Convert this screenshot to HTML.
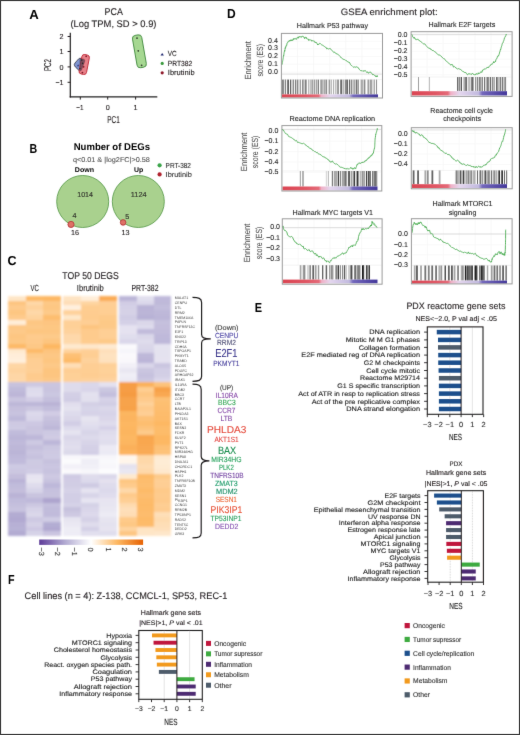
<!DOCTYPE html>
<html><head><meta charset="utf-8"><title>Figure</title>
<style>html,body{margin:0;padding:0;background:#fff;} body{width:520px;height:735px;overflow:hidden;font-family:"Liberation Sans", sans-serif;} svg{display:block;position:absolute;left:0;top:0;} svg.bd{filter:none;}</style>
</head><body>
<svg width="520" height="735" viewBox="0 0 520 735" font-family='"Liberation Sans", sans-serif' fill="#231f20" text-rendering="geometricPrecision">
<defs><filter id="hblur" x="-2%" y="-2%" width="104%" height="104%"><feGaussianBlur stdDeviation="0.8"/></filter></defs>
<filter id="gb" x="0" y="0" width="520" height="735" filterUnits="userSpaceOnUse"><feConvolveMatrix order="3" kernelMatrix="0.0052 0.0619 0.0052 0.0619 0.7314 0.0619 0.0052 0.0619 0.0052" edgeMode="duplicate"/></filter>
<rect x="0" y="0" width="520" height="735" fill="#fff"/>
<g filter="url(#gb)">
<text x="29.20" y="18.70" font-size="13.0" font-weight="bold" fill="#000" textLength="9.50" lengthAdjust="spacingAndGlyphs">A</text>
<text x="104.60" y="15.20" font-size="9.8" textLength="18.20" lengthAdjust="spacingAndGlyphs" stroke="#231f20" stroke-width="0.12">PCA</text>
<text x="70.40" y="26.60" font-size="9.6" textLength="86.10" lengthAdjust="spacingAndGlyphs" stroke="#231f20" stroke-width="0.12">(Log TPM, SD &gt; 0.9)</text>
<line x1="70.30" y1="32.80" x2="70.30" y2="97.50" stroke="#231f20" stroke-width="1.2" />
<line x1="69.70" y1="96.90" x2="157.30" y2="96.90" stroke="#231f20" stroke-width="1.2" />
<line x1="67.60" y1="36.50" x2="70.30" y2="36.50" stroke="#231f20" stroke-width="1" />
<text x="63.60" y="39.10" font-size="7.2" text-anchor="end" stroke="#231f20" stroke-width="0.12">2</text>
<line x1="67.60" y1="51.50" x2="70.30" y2="51.50" stroke="#231f20" stroke-width="1" />
<text x="63.60" y="54.10" font-size="7.2" text-anchor="end" stroke="#231f20" stroke-width="0.12">1</text>
<line x1="67.60" y1="66.90" x2="70.30" y2="66.90" stroke="#231f20" stroke-width="1" />
<text x="63.60" y="69.50" font-size="7.2" text-anchor="end" stroke="#231f20" stroke-width="0.12">0</text>
<line x1="67.60" y1="82.30" x2="70.30" y2="82.30" stroke="#231f20" stroke-width="1" />
<text x="55.40" y="84.90" font-size="7.2" textLength="8.00" lengthAdjust="spacingAndGlyphs" stroke="#231f20" stroke-width="0.12">−1</text>
<line x1="80.30" y1="96.90" x2="80.30" y2="99.60" stroke="#231f20" stroke-width="1" />
<text x="76.30" y="110.20" font-size="7.2" textLength="7.20" lengthAdjust="spacingAndGlyphs" stroke="#231f20" stroke-width="0.12">−1</text>
<line x1="107.70" y1="96.90" x2="107.70" y2="99.60" stroke="#231f20" stroke-width="1" />
<text x="107.70" y="110.20" font-size="7.2" text-anchor="middle" stroke="#231f20" stroke-width="0.12">0</text>
<line x1="135.60" y1="96.90" x2="135.60" y2="99.60" stroke="#231f20" stroke-width="1" />
<text x="135.60" y="110.20" font-size="7.2" text-anchor="middle" stroke="#231f20" stroke-width="0.12">1</text>
<text x="107.30" y="123.40" font-size="10.0" textLength="12.50" lengthAdjust="spacingAndGlyphs" stroke="#231f20" stroke-width="0.12">PC1</text>
<text x="50.90" y="71.00" font-size="10.0" textLength="12.00" lengthAdjust="spacingAndGlyphs" transform="rotate(-90 50.90 71.00)" stroke="#231f20" stroke-width="0.12">PC2</text>
<path d="M74.6,65.8 Q73.8,64.6 75,63 L78.6,58.9 Q79.6,58 81,58.3 L84,59.2 Q85.2,59.8 84.8,61.2 L81.6,70 Q80.8,71.4 79.4,70.8 L75.6,67.2 Z" fill="#8094d0" stroke="#2b2b3a" stroke-width="0.8"/>
<rect x="80.4" y="54.6" width="7.6" height="19.8" rx="2.6" transform="rotate(11 84.2 64.5)" fill="#e2606c" fill-opacity="0.8" stroke="#c22c3a" stroke-width="0.9"/>
<path d="M79.5,58.6 L84,59.2 Q85.2,59.8 84.8,61.2 L81.6,70 Q80.8,71.4 79.8,70.9 Z" fill="#3a3440" fill-opacity="0.55"/>
<rect x="134.7" y="34.9" width="9.4" height="32.8" rx="3.2" transform="rotate(-9.9 139.4 51.3)" fill="#a6d892" stroke="#3f8a3d" stroke-width="0.9"/>
<path d="M78.1,64.3 L79.2,66.3 L77.0,66.3 Z" fill="#1f2f7a"/>
<circle cx="81.8" cy="60.1" r="0.8" fill="#222"/>
<circle cx="82.6" cy="63.4" r="0.8" fill="#222"/>
<circle cx="79.8" cy="68.6" r="0.8" fill="#222"/>
<circle cx="86.2" cy="56.3" r="0.9" fill="#7a1020"/>
<circle cx="83.6" cy="66.8" r="0.9" fill="#7a1020"/>
<circle cx="82.4" cy="72.6" r="0.9" fill="#7a1020"/>
<path d="M137,36.8 L138.1,38.8 L135.9,38.8 Z" fill="#1a1a1a"/>
<circle cx="138.3" cy="50.8" r="0.85" fill="#1a1a1a"/>
<circle cx="141.6" cy="65.3" r="0.85" fill="#1a1a1a"/>
<path d="M162.2,52.9 L163.9,55.6 L160.5,55.6 Z" fill="#1e2d72"/>
<circle cx="162.2" cy="63.4" r="1.6" fill="#3a9a3e"/>
<circle cx="162.2" cy="72.8" r="1.6" fill="#8e1526"/>
<text x="167.80" y="55.90" font-size="7.4" textLength="8.90" lengthAdjust="spacingAndGlyphs" stroke="#231f20" stroke-width="0.12">VC</text>
<text x="167.80" y="65.80" font-size="7.4" textLength="24.50" lengthAdjust="spacingAndGlyphs" stroke="#231f20" stroke-width="0.12">PRT382</text>
<text x="167.80" y="74.50" font-size="7.4" textLength="26.80" lengthAdjust="spacingAndGlyphs" stroke="#231f20" stroke-width="0.12">Ibrutinib</text>
<text x="29.60" y="153.30" font-size="13.0" font-weight="bold" fill="#000" textLength="7.70" lengthAdjust="spacingAndGlyphs">B</text>
<text x="73.70" y="150.40" font-size="9.8" font-weight="bold" fill="#000" textLength="76.30" lengthAdjust="spacingAndGlyphs">Number of DEGs</text>
<text x="72.90" y="161.60" font-size="7.0" fill="#555" textLength="77.00" lengthAdjust="spacingAndGlyphs" stroke="#555" stroke-width="0.12">q&lt;0.01 &amp; |log2FC|&gt;0.58</text>
<text x="74.80" y="172.30" font-size="7.0" font-weight="bold" fill="#000" textLength="19.20" lengthAdjust="spacingAndGlyphs">Down</text>
<text x="134.00" y="172.30" font-size="7.0" font-weight="bold" fill="#000" textLength="9.20" lengthAdjust="spacingAndGlyphs">Up</text>
<circle cx="159.6" cy="165.3" r="2.1" fill="#3aa44a"/>
<circle cx="159.6" cy="174.4" r="2.1" fill="#b0202e"/>
<text x="165.60" y="168.00" font-size="7.2" fill="#333" textLength="25.30" lengthAdjust="spacingAndGlyphs" stroke="#333" stroke-width="0.12">PRT-382</text>
<text x="165.60" y="177.00" font-size="7.2" fill="#333" textLength="26.20" lengthAdjust="spacingAndGlyphs" stroke="#333" stroke-width="0.12">Ibrutinib</text>
<circle cx="82.7" cy="201.5" r="26.0" fill="#a9d18e" stroke="#5c9e4f" stroke-width="0.9"/>
<circle cx="138.3" cy="201.5" r="26.0" fill="#a9d18e" stroke="#5c9e4f" stroke-width="0.9"/>
<circle cx="71.0" cy="224.4" r="3.1" fill="#de7266" stroke="#b02a32" stroke-width="0.8"/>
<circle cx="123.1" cy="222.4" r="2.8" fill="#de7266" stroke="#b02a32" stroke-width="0.8"/>
<text x="77.20" y="197.40" font-size="7.2" textLength="15.80" lengthAdjust="spacingAndGlyphs" stroke="#231f20" stroke-width="0.12">1014</text>
<text x="130.80" y="197.40" font-size="7.2" textLength="15.80" lengthAdjust="spacingAndGlyphs" stroke="#231f20" stroke-width="0.12">1124</text>
<text x="74.60" y="218.40" font-size="7.2" text-anchor="middle" stroke="#231f20" stroke-width="0.12">4</text>
<text x="127.30" y="219.20" font-size="7.2" text-anchor="middle" stroke="#231f20" stroke-width="0.12">5</text>
<text x="75.00" y="234.50" font-size="7.2" text-anchor="middle" stroke="#231f20" stroke-width="0.12">16</text>
<text x="125.60" y="234.50" font-size="7.2" text-anchor="middle" stroke="#231f20" stroke-width="0.12">13</text>
<text x="7.60" y="264.60" font-size="13.0" font-weight="bold" fill="#000" textLength="9.00" lengthAdjust="spacingAndGlyphs">C</text>
<text x="62.30" y="278.80" font-size="9.9" textLength="56.40" lengthAdjust="spacingAndGlyphs" stroke="#231f20" stroke-width="0.12">TOP 50 DEGS</text>
<text x="30.50" y="290.70" font-size="8.8" textLength="8.30" lengthAdjust="spacingAndGlyphs" stroke="#231f20" stroke-width="0.12">VC</text>
<text x="76.80" y="290.70" font-size="8.8" textLength="27.00" lengthAdjust="spacingAndGlyphs" stroke="#231f20" stroke-width="0.12">Ibrutinib</text>
<text x="131.50" y="290.70" font-size="8.8" textLength="27.00" lengthAdjust="spacingAndGlyphs" stroke="#231f20" stroke-width="0.12">PRT-382</text>
<g filter="url(#hblur)" shape-rendering="crispEdges">
<rect x="7.80" y="295.70" width="18.40" height="5.41" fill="#fee6c8"/>
<rect x="7.80" y="300.51" width="18.40" height="5.41" fill="#fdc580"/>
<rect x="7.80" y="305.32" width="18.40" height="5.41" fill="#feca8c"/>
<rect x="7.80" y="310.14" width="18.40" height="5.41" fill="#fdc682"/>
<rect x="7.80" y="314.95" width="18.40" height="5.41" fill="#fecb8c"/>
<rect x="7.80" y="319.76" width="18.40" height="5.41" fill="#ffedd8"/>
<rect x="7.80" y="324.57" width="18.40" height="5.41" fill="#fdc886"/>
<rect x="7.80" y="329.38" width="18.40" height="5.41" fill="#fdc989"/>
<rect x="7.80" y="334.20" width="18.40" height="5.41" fill="#fdc682"/>
<rect x="7.80" y="339.01" width="18.40" height="5.41" fill="#fdc885"/>
<rect x="7.80" y="343.82" width="18.40" height="5.41" fill="#fdba68"/>
<rect x="7.80" y="348.63" width="18.40" height="5.41" fill="#fee9cf"/>
<rect x="7.80" y="353.44" width="18.40" height="5.41" fill="#ffedd9"/>
<rect x="7.80" y="358.26" width="18.40" height="5.41" fill="#ffefdc"/>
<rect x="7.80" y="363.07" width="18.40" height="5.41" fill="#fed6a4"/>
<rect x="7.80" y="367.88" width="18.40" height="5.41" fill="#fed39f"/>
<rect x="7.80" y="372.69" width="18.40" height="5.41" fill="#fed6a6"/>
<rect x="7.80" y="377.50" width="18.40" height="5.41" fill="#fed7a6"/>
<rect x="7.80" y="382.32" width="18.40" height="5.41" fill="#c7c2de"/>
<rect x="7.80" y="387.13" width="18.40" height="5.41" fill="#c0bbda"/>
<rect x="7.80" y="391.94" width="18.40" height="5.41" fill="#bdb6d8"/>
<rect x="7.80" y="396.75" width="18.40" height="5.41" fill="#cac5e0"/>
<rect x="7.80" y="401.56" width="18.40" height="5.41" fill="#bdb7d8"/>
<rect x="7.80" y="406.38" width="18.40" height="5.41" fill="#c6c0dd"/>
<rect x="7.80" y="411.19" width="18.40" height="5.41" fill="#c8c3df"/>
<rect x="7.80" y="416.00" width="18.40" height="5.41" fill="#bfbada"/>
<rect x="7.80" y="420.81" width="18.40" height="5.41" fill="#cec9e2"/>
<rect x="7.80" y="425.62" width="18.40" height="5.41" fill="#cfcbe3"/>
<rect x="7.80" y="430.44" width="18.40" height="5.41" fill="#c1bcdb"/>
<rect x="7.80" y="435.25" width="18.40" height="5.41" fill="#bcb6d8"/>
<rect x="7.80" y="440.06" width="18.40" height="5.41" fill="#c0bada"/>
<rect x="7.80" y="444.87" width="18.40" height="5.41" fill="#bdb7d8"/>
<rect x="7.80" y="449.68" width="18.40" height="5.41" fill="#bbb5d7"/>
<rect x="7.80" y="454.50" width="18.40" height="5.41" fill="#bfb9da"/>
<rect x="7.80" y="459.31" width="18.40" height="5.41" fill="#c1bbdb"/>
<rect x="7.80" y="464.12" width="18.40" height="5.41" fill="#cecae3"/>
<rect x="7.80" y="468.93" width="18.40" height="5.41" fill="#ccc7e1"/>
<rect x="7.80" y="473.74" width="18.40" height="5.41" fill="#c4bedc"/>
<rect x="7.80" y="478.56" width="18.40" height="5.41" fill="#bab4d7"/>
<rect x="7.80" y="483.37" width="18.40" height="5.41" fill="#c1bcdb"/>
<rect x="7.80" y="488.18" width="18.40" height="5.41" fill="#c4bedc"/>
<rect x="7.80" y="492.99" width="18.40" height="5.41" fill="#bab3d6"/>
<rect x="7.80" y="497.80" width="18.40" height="5.41" fill="#c1bcdb"/>
<rect x="7.80" y="502.62" width="18.40" height="5.41" fill="#c5c0dd"/>
<rect x="7.80" y="507.43" width="18.40" height="5.41" fill="#c8c3df"/>
<rect x="7.80" y="512.24" width="18.40" height="5.41" fill="#b3acd2"/>
<rect x="7.80" y="517.05" width="18.40" height="5.41" fill="#b1a9d1"/>
<rect x="7.80" y="521.86" width="18.40" height="5.41" fill="#b7b0d5"/>
<rect x="7.80" y="526.68" width="18.40" height="5.41" fill="#b8b2d6"/>
<rect x="7.80" y="531.49" width="18.40" height="4.81" fill="#b2abd2"/>
<rect x="25.60" y="295.70" width="18.40" height="5.41" fill="#fdb966"/>
<rect x="25.60" y="300.51" width="18.40" height="5.41" fill="#fed8a8"/>
<rect x="25.60" y="305.32" width="18.40" height="5.41" fill="#fed29c"/>
<rect x="25.60" y="310.14" width="18.40" height="5.41" fill="#fed8a8"/>
<rect x="25.60" y="314.95" width="18.40" height="5.41" fill="#fed39e"/>
<rect x="25.60" y="319.76" width="18.40" height="5.41" fill="#fdc784"/>
<rect x="25.60" y="324.57" width="18.40" height="5.41" fill="#fdc988"/>
<rect x="25.60" y="329.38" width="18.40" height="5.41" fill="#fdc681"/>
<rect x="25.60" y="334.20" width="18.40" height="5.41" fill="#fecb8d"/>
<rect x="25.60" y="339.01" width="18.40" height="5.41" fill="#feca8b"/>
<rect x="25.60" y="343.82" width="18.40" height="5.41" fill="#fdc886"/>
<rect x="25.60" y="348.63" width="18.40" height="5.41" fill="#fdba67"/>
<rect x="25.60" y="353.44" width="18.40" height="5.41" fill="#fdca8a"/>
<rect x="25.60" y="358.26" width="18.40" height="5.41" fill="#fece93"/>
<rect x="25.60" y="363.07" width="18.40" height="5.41" fill="#fece94"/>
<rect x="25.60" y="367.88" width="18.40" height="5.41" fill="#fecf95"/>
<rect x="25.60" y="372.69" width="18.40" height="5.41" fill="#fecb8d"/>
<rect x="25.60" y="377.50" width="18.40" height="5.41" fill="#fecc8f"/>
<rect x="25.60" y="382.32" width="18.40" height="5.41" fill="#cec9e2"/>
<rect x="25.60" y="387.13" width="18.40" height="5.41" fill="#dedbec"/>
<rect x="25.60" y="391.94" width="18.40" height="5.41" fill="#e0dded"/>
<rect x="25.60" y="396.75" width="18.40" height="5.41" fill="#d3cee5"/>
<rect x="25.60" y="401.56" width="18.40" height="5.41" fill="#bcb6d8"/>
<rect x="25.60" y="406.38" width="18.40" height="5.41" fill="#cbc6e0"/>
<rect x="25.60" y="411.19" width="18.40" height="5.41" fill="#dcd9eb"/>
<rect x="25.60" y="416.00" width="18.40" height="5.41" fill="#d9d5e9"/>
<rect x="25.60" y="420.81" width="18.40" height="5.41" fill="#cdc8e2"/>
<rect x="25.60" y="425.62" width="18.40" height="5.41" fill="#c9c4df"/>
<rect x="25.60" y="430.44" width="18.40" height="5.41" fill="#cac5e0"/>
<rect x="25.60" y="435.25" width="18.40" height="5.41" fill="#beb8d9"/>
<rect x="25.60" y="440.06" width="18.40" height="5.41" fill="#cdc9e2"/>
<rect x="25.60" y="444.87" width="18.40" height="5.41" fill="#c5bfdd"/>
<rect x="25.60" y="449.68" width="18.40" height="5.41" fill="#cbc6e1"/>
<rect x="25.60" y="454.50" width="18.40" height="5.41" fill="#c6c1de"/>
<rect x="25.60" y="459.31" width="18.40" height="5.41" fill="#cecae2"/>
<rect x="25.60" y="464.12" width="18.40" height="5.41" fill="#cec9e2"/>
<rect x="25.60" y="468.93" width="18.40" height="5.41" fill="#d0cce4"/>
<rect x="25.60" y="473.74" width="18.40" height="5.41" fill="#e7e4f1"/>
<rect x="25.60" y="478.56" width="18.40" height="5.41" fill="#e8e6f1"/>
<rect x="25.60" y="483.37" width="18.40" height="5.41" fill="#dfdcec"/>
<rect x="25.60" y="488.18" width="18.40" height="5.41" fill="#d7d4e8"/>
<rect x="25.60" y="492.99" width="18.40" height="5.41" fill="#c9c4df"/>
<rect x="25.60" y="497.80" width="18.40" height="5.41" fill="#bfb9da"/>
<rect x="25.60" y="502.62" width="18.40" height="5.41" fill="#ccc8e1"/>
<rect x="25.60" y="507.43" width="18.40" height="5.41" fill="#d6d2e7"/>
<rect x="25.60" y="512.24" width="18.40" height="5.41" fill="#dad7e9"/>
<rect x="25.60" y="517.05" width="18.40" height="5.41" fill="#cec9e2"/>
<rect x="25.60" y="521.86" width="18.40" height="5.41" fill="#d4d0e6"/>
<rect x="25.60" y="526.68" width="18.40" height="5.41" fill="#cdc8e2"/>
<rect x="25.60" y="531.49" width="18.40" height="4.81" fill="#d6d3e7"/>
<rect x="43.40" y="295.70" width="17.80" height="5.41" fill="#fdb863"/>
<rect x="43.40" y="300.51" width="17.80" height="5.41" fill="#fdc886"/>
<rect x="43.40" y="305.32" width="17.80" height="5.41" fill="#fdc783"/>
<rect x="43.40" y="310.14" width="17.80" height="5.41" fill="#fdca8a"/>
<rect x="43.40" y="314.95" width="17.80" height="5.41" fill="#fdbe6f"/>
<rect x="43.40" y="319.76" width="17.80" height="5.41" fill="#fdc581"/>
<rect x="43.40" y="324.57" width="17.80" height="5.41" fill="#fdc783"/>
<rect x="43.40" y="329.38" width="17.80" height="5.41" fill="#fdc682"/>
<rect x="43.40" y="334.20" width="17.80" height="5.41" fill="#fdca8a"/>
<rect x="43.40" y="339.01" width="17.80" height="5.41" fill="#fdc57f"/>
<rect x="43.40" y="343.82" width="17.80" height="5.41" fill="#fdb762"/>
<rect x="43.40" y="348.63" width="17.80" height="5.41" fill="#fdc47e"/>
<rect x="43.40" y="353.44" width="17.80" height="5.41" fill="#fdc785"/>
<rect x="43.40" y="358.26" width="17.80" height="5.41" fill="#fdc681"/>
<rect x="43.40" y="363.07" width="17.80" height="5.41" fill="#fdc988"/>
<rect x="43.40" y="367.88" width="17.80" height="5.41" fill="#fdc57f"/>
<rect x="43.40" y="372.69" width="17.80" height="5.41" fill="#fdc580"/>
<rect x="43.40" y="377.50" width="17.80" height="5.41" fill="#fdc988"/>
<rect x="43.40" y="382.32" width="17.80" height="5.41" fill="#cac5e0"/>
<rect x="43.40" y="387.13" width="17.80" height="5.41" fill="#c9c4df"/>
<rect x="43.40" y="391.94" width="17.80" height="5.41" fill="#cbc7e1"/>
<rect x="43.40" y="396.75" width="17.80" height="5.41" fill="#c5c0dd"/>
<rect x="43.40" y="401.56" width="17.80" height="5.41" fill="#bab3d6"/>
<rect x="43.40" y="406.38" width="17.80" height="5.41" fill="#c2bddc"/>
<rect x="43.40" y="411.19" width="17.80" height="5.41" fill="#d1cce4"/>
<rect x="43.40" y="416.00" width="17.80" height="5.41" fill="#c7c2de"/>
<rect x="43.40" y="420.81" width="17.80" height="5.41" fill="#c3bddc"/>
<rect x="43.40" y="425.62" width="17.80" height="5.41" fill="#bdb7d8"/>
<rect x="43.40" y="430.44" width="17.80" height="5.41" fill="#cdc9e2"/>
<rect x="43.40" y="435.25" width="17.80" height="5.41" fill="#d0cbe3"/>
<rect x="43.40" y="440.06" width="17.80" height="5.41" fill="#bdb7d9"/>
<rect x="43.40" y="444.87" width="17.80" height="5.41" fill="#cbc7e1"/>
<rect x="43.40" y="449.68" width="17.80" height="5.41" fill="#cec9e2"/>
<rect x="43.40" y="454.50" width="17.80" height="5.41" fill="#cfcae3"/>
<rect x="43.40" y="459.31" width="17.80" height="5.41" fill="#c7c2de"/>
<rect x="43.40" y="464.12" width="17.80" height="5.41" fill="#cbc6e1"/>
<rect x="43.40" y="468.93" width="17.80" height="5.41" fill="#c8c3df"/>
<rect x="43.40" y="473.74" width="17.80" height="5.41" fill="#cec9e2"/>
<rect x="43.40" y="478.56" width="17.80" height="5.41" fill="#c8c3df"/>
<rect x="43.40" y="483.37" width="17.80" height="5.41" fill="#beb8d9"/>
<rect x="43.40" y="488.18" width="17.80" height="5.41" fill="#c6c1de"/>
<rect x="43.40" y="492.99" width="17.80" height="5.41" fill="#c7c2de"/>
<rect x="43.40" y="497.80" width="17.80" height="5.41" fill="#ada4ce"/>
<rect x="43.40" y="502.62" width="17.80" height="5.41" fill="#c4bfdd"/>
<rect x="43.40" y="507.43" width="17.80" height="5.41" fill="#c1bcdb"/>
<rect x="43.40" y="512.24" width="17.80" height="5.41" fill="#c1bbdb"/>
<rect x="43.40" y="517.05" width="17.80" height="5.41" fill="#d0cce4"/>
<rect x="43.40" y="521.86" width="17.80" height="5.41" fill="#b3add3"/>
<rect x="43.40" y="526.68" width="17.80" height="5.41" fill="#b1a9d1"/>
<rect x="43.40" y="531.49" width="17.80" height="4.81" fill="#cac5e0"/>
<rect x="63.30" y="295.70" width="18.47" height="5.41" fill="#fee3c2"/>
<rect x="63.30" y="300.51" width="18.47" height="5.41" fill="#fedeb7"/>
<rect x="63.30" y="305.32" width="18.47" height="5.41" fill="#fff0de"/>
<rect x="63.30" y="310.14" width="18.47" height="5.41" fill="#fed29c"/>
<rect x="63.30" y="314.95" width="18.47" height="5.41" fill="#fee7c9"/>
<rect x="63.30" y="319.76" width="18.47" height="5.41" fill="#fed098"/>
<rect x="63.30" y="324.57" width="18.47" height="5.41" fill="#fed097"/>
<rect x="63.30" y="329.38" width="18.47" height="5.41" fill="#fed29d"/>
<rect x="63.30" y="334.20" width="18.47" height="5.41" fill="#fed8aa"/>
<rect x="63.30" y="339.01" width="18.47" height="5.41" fill="#fed9ab"/>
<rect x="63.30" y="343.82" width="18.47" height="5.41" fill="#fee9cf"/>
<rect x="63.30" y="348.63" width="18.47" height="5.41" fill="#fed39f"/>
<rect x="63.30" y="353.44" width="18.47" height="5.41" fill="#fdc075"/>
<rect x="63.30" y="358.26" width="18.47" height="5.41" fill="#fdbb69"/>
<rect x="63.30" y="363.07" width="18.47" height="5.41" fill="#fedeb6"/>
<rect x="63.30" y="367.88" width="18.47" height="5.41" fill="#fece94"/>
<rect x="63.30" y="372.69" width="18.47" height="5.41" fill="#fed097"/>
<rect x="63.30" y="377.50" width="18.47" height="5.41" fill="#fed098"/>
<rect x="63.30" y="382.32" width="18.47" height="5.41" fill="#dedbec"/>
<rect x="63.30" y="387.13" width="18.47" height="5.41" fill="#dedbeb"/>
<rect x="63.30" y="391.94" width="18.47" height="5.41" fill="#d3cfe5"/>
<rect x="63.30" y="396.75" width="18.47" height="5.41" fill="#d1cde4"/>
<rect x="63.30" y="401.56" width="18.47" height="5.41" fill="#e1deed"/>
<rect x="63.30" y="406.38" width="18.47" height="5.41" fill="#e4e2ef"/>
<rect x="63.30" y="411.19" width="18.47" height="5.41" fill="#dedbec"/>
<rect x="63.30" y="416.00" width="18.47" height="5.41" fill="#dad7e9"/>
<rect x="63.30" y="420.81" width="18.47" height="5.41" fill="#d2cee5"/>
<rect x="63.30" y="425.62" width="18.47" height="5.41" fill="#dedbec"/>
<rect x="63.30" y="430.44" width="18.47" height="5.41" fill="#e5e3f0"/>
<rect x="63.30" y="435.25" width="18.47" height="5.41" fill="#dad7e9"/>
<rect x="63.30" y="440.06" width="18.47" height="5.41" fill="#dfdcec"/>
<rect x="63.30" y="444.87" width="18.47" height="5.41" fill="#e1deed"/>
<rect x="63.30" y="449.68" width="18.47" height="5.41" fill="#dcd9ea"/>
<rect x="63.30" y="454.50" width="18.47" height="5.41" fill="#f8f7fb"/>
<rect x="63.30" y="459.31" width="18.47" height="5.41" fill="#fbfbfd"/>
<rect x="63.30" y="464.12" width="18.47" height="5.41" fill="#f3f1f8"/>
<rect x="63.30" y="468.93" width="18.47" height="5.41" fill="#faf9fc"/>
<rect x="63.30" y="473.74" width="18.47" height="5.41" fill="#cfcae3"/>
<rect x="63.30" y="478.56" width="18.47" height="5.41" fill="#d1cce4"/>
<rect x="63.30" y="483.37" width="18.47" height="5.41" fill="#d1cde4"/>
<rect x="63.30" y="488.18" width="18.47" height="5.41" fill="#d6d2e7"/>
<rect x="63.30" y="492.99" width="18.47" height="5.41" fill="#d2cee5"/>
<rect x="63.30" y="497.80" width="18.47" height="5.41" fill="#d2cee5"/>
<rect x="63.30" y="502.62" width="18.47" height="5.41" fill="#d5d2e7"/>
<rect x="63.30" y="507.43" width="18.47" height="5.41" fill="#c7c2de"/>
<rect x="63.30" y="512.24" width="18.47" height="5.41" fill="#cec9e2"/>
<rect x="63.30" y="517.05" width="18.47" height="5.41" fill="#e6e4f0"/>
<rect x="63.30" y="521.86" width="18.47" height="5.41" fill="#eae8f3"/>
<rect x="63.30" y="526.68" width="18.47" height="5.41" fill="#eeedf5"/>
<rect x="63.30" y="531.49" width="18.47" height="4.81" fill="#eeecf5"/>
<rect x="81.17" y="295.70" width="18.47" height="5.41" fill="#ffeed9"/>
<rect x="81.17" y="300.51" width="18.47" height="5.41" fill="#fed5a2"/>
<rect x="81.17" y="305.32" width="18.47" height="5.41" fill="#fecd91"/>
<rect x="81.17" y="310.14" width="18.47" height="5.41" fill="#fecc90"/>
<rect x="81.17" y="314.95" width="18.47" height="5.41" fill="#fecc8e"/>
<rect x="81.17" y="319.76" width="18.47" height="5.41" fill="#fece94"/>
<rect x="81.17" y="324.57" width="18.47" height="5.41" fill="#fdc580"/>
<rect x="81.17" y="329.38" width="18.47" height="5.41" fill="#fecb8d"/>
<rect x="81.17" y="334.20" width="18.47" height="5.41" fill="#fecb8d"/>
<rect x="81.17" y="339.01" width="18.47" height="5.41" fill="#fecc8e"/>
<rect x="81.17" y="343.82" width="18.47" height="5.41" fill="#fee7cb"/>
<rect x="81.17" y="348.63" width="18.47" height="5.41" fill="#fecf96"/>
<rect x="81.17" y="353.44" width="18.47" height="5.41" fill="#fece93"/>
<rect x="81.17" y="358.26" width="18.47" height="5.41" fill="#fed29c"/>
<rect x="81.17" y="363.07" width="18.47" height="5.41" fill="#fece94"/>
<rect x="81.17" y="367.88" width="18.47" height="5.41" fill="#fece93"/>
<rect x="81.17" y="372.69" width="18.47" height="5.41" fill="#fecd92"/>
<rect x="81.17" y="377.50" width="18.47" height="5.41" fill="#fed19b"/>
<rect x="81.17" y="382.32" width="18.47" height="5.41" fill="#dad7ea"/>
<rect x="81.17" y="387.13" width="18.47" height="5.41" fill="#d9d5e9"/>
<rect x="81.17" y="391.94" width="18.47" height="5.41" fill="#e3e1ef"/>
<rect x="81.17" y="396.75" width="18.47" height="5.41" fill="#e2e0ee"/>
<rect x="81.17" y="401.56" width="18.47" height="5.41" fill="#d3cfe5"/>
<rect x="81.17" y="406.38" width="18.47" height="5.41" fill="#d7d4e8"/>
<rect x="81.17" y="411.19" width="18.47" height="5.41" fill="#d6d2e7"/>
<rect x="81.17" y="416.00" width="18.47" height="5.41" fill="#e6e4f0"/>
<rect x="81.17" y="420.81" width="18.47" height="5.41" fill="#e2e0ee"/>
<rect x="81.17" y="425.62" width="18.47" height="5.41" fill="#dedbec"/>
<rect x="81.17" y="430.44" width="18.47" height="5.41" fill="#d8d5e8"/>
<rect x="81.17" y="435.25" width="18.47" height="5.41" fill="#dddaeb"/>
<rect x="81.17" y="440.06" width="18.47" height="5.41" fill="#d8d4e8"/>
<rect x="81.17" y="444.87" width="18.47" height="5.41" fill="#d4d0e6"/>
<rect x="81.17" y="449.68" width="18.47" height="5.41" fill="#d3cfe5"/>
<rect x="81.17" y="454.50" width="18.47" height="5.41" fill="#f7f6fa"/>
<rect x="81.17" y="459.31" width="18.47" height="5.41" fill="#efeef6"/>
<rect x="81.17" y="464.12" width="18.47" height="5.41" fill="#f1f0f7"/>
<rect x="81.17" y="468.93" width="18.47" height="5.41" fill="#f7f6fa"/>
<rect x="81.17" y="473.74" width="18.47" height="5.41" fill="#dfdcec"/>
<rect x="81.17" y="478.56" width="18.47" height="5.41" fill="#dcd9eb"/>
<rect x="81.17" y="483.37" width="18.47" height="5.41" fill="#cfcbe3"/>
<rect x="81.17" y="488.18" width="18.47" height="5.41" fill="#e5e3f0"/>
<rect x="81.17" y="492.99" width="18.47" height="5.41" fill="#d8d5e8"/>
<rect x="81.17" y="497.80" width="18.47" height="5.41" fill="#e6e4f1"/>
<rect x="81.17" y="502.62" width="18.47" height="5.41" fill="#d4d1e6"/>
<rect x="81.17" y="507.43" width="18.47" height="5.41" fill="#d9d5e9"/>
<rect x="81.17" y="512.24" width="18.47" height="5.41" fill="#ddd9eb"/>
<rect x="81.17" y="517.05" width="18.47" height="5.41" fill="#d5d1e6"/>
<rect x="81.17" y="521.86" width="18.47" height="5.41" fill="#dfdcec"/>
<rect x="81.17" y="526.68" width="18.47" height="5.41" fill="#d4d0e6"/>
<rect x="81.17" y="531.49" width="18.47" height="4.81" fill="#e1dfee"/>
<rect x="99.03" y="295.70" width="17.87" height="5.41" fill="#faab55"/>
<rect x="99.03" y="300.51" width="17.87" height="5.41" fill="#fece94"/>
<rect x="99.03" y="305.32" width="17.87" height="5.41" fill="#fece93"/>
<rect x="99.03" y="310.14" width="17.87" height="5.41" fill="#fece93"/>
<rect x="99.03" y="314.95" width="17.87" height="5.41" fill="#fdca8a"/>
<rect x="99.03" y="319.76" width="17.87" height="5.41" fill="#fdc987"/>
<rect x="99.03" y="324.57" width="17.87" height="5.41" fill="#fdc988"/>
<rect x="99.03" y="329.38" width="17.87" height="5.41" fill="#fecf95"/>
<rect x="99.03" y="334.20" width="17.87" height="5.41" fill="#fecf95"/>
<rect x="99.03" y="339.01" width="17.87" height="5.41" fill="#fdc988"/>
<rect x="99.03" y="343.82" width="17.87" height="5.41" fill="#feead1"/>
<rect x="99.03" y="348.63" width="17.87" height="5.41" fill="#fedfba"/>
<rect x="99.03" y="353.44" width="17.87" height="5.41" fill="#fee2c0"/>
<rect x="99.03" y="358.26" width="17.87" height="5.41" fill="#fee1be"/>
<rect x="99.03" y="363.07" width="17.87" height="5.41" fill="#fed098"/>
<rect x="99.03" y="367.88" width="17.87" height="5.41" fill="#fed199"/>
<rect x="99.03" y="372.69" width="17.87" height="5.41" fill="#fecf97"/>
<rect x="99.03" y="377.50" width="17.87" height="5.41" fill="#fed39f"/>
<rect x="99.03" y="382.32" width="17.87" height="5.41" fill="#e4e1ef"/>
<rect x="99.03" y="387.13" width="17.87" height="5.41" fill="#cbc7e1"/>
<rect x="99.03" y="391.94" width="17.87" height="5.41" fill="#c4bfdd"/>
<rect x="99.03" y="396.75" width="17.87" height="5.41" fill="#d6d2e7"/>
<rect x="99.03" y="401.56" width="17.87" height="5.41" fill="#d1cde4"/>
<rect x="99.03" y="406.38" width="17.87" height="5.41" fill="#dad7e9"/>
<rect x="99.03" y="411.19" width="17.87" height="5.41" fill="#d7d3e8"/>
<rect x="99.03" y="416.00" width="17.87" height="5.41" fill="#dad6e9"/>
<rect x="99.03" y="420.81" width="17.87" height="5.41" fill="#dfdcec"/>
<rect x="99.03" y="425.62" width="17.87" height="5.41" fill="#d6d2e7"/>
<rect x="99.03" y="430.44" width="17.87" height="5.41" fill="#dfdcec"/>
<rect x="99.03" y="435.25" width="17.87" height="5.41" fill="#e2dfee"/>
<rect x="99.03" y="440.06" width="17.87" height="5.41" fill="#e0deed"/>
<rect x="99.03" y="444.87" width="17.87" height="5.41" fill="#eceaf4"/>
<rect x="99.03" y="449.68" width="17.87" height="5.41" fill="#ebeaf4"/>
<rect x="99.03" y="454.50" width="17.87" height="5.41" fill="#f7f6fa"/>
<rect x="99.03" y="459.31" width="17.87" height="5.41" fill="#f9f9fc"/>
<rect x="99.03" y="464.12" width="17.87" height="5.41" fill="#f8f7fb"/>
<rect x="99.03" y="468.93" width="17.87" height="5.41" fill="#fdfdfe"/>
<rect x="99.03" y="473.74" width="17.87" height="5.41" fill="#dbd8ea"/>
<rect x="99.03" y="478.56" width="17.87" height="5.41" fill="#e4e1ef"/>
<rect x="99.03" y="483.37" width="17.87" height="5.41" fill="#dfdcec"/>
<rect x="99.03" y="488.18" width="17.87" height="5.41" fill="#dcd9eb"/>
<rect x="99.03" y="492.99" width="17.87" height="5.41" fill="#e0dded"/>
<rect x="99.03" y="497.80" width="17.87" height="5.41" fill="#e7e4f1"/>
<rect x="99.03" y="502.62" width="17.87" height="5.41" fill="#e7e5f1"/>
<rect x="99.03" y="507.43" width="17.87" height="5.41" fill="#e9e7f2"/>
<rect x="99.03" y="512.24" width="17.87" height="5.41" fill="#ecebf4"/>
<rect x="99.03" y="517.05" width="17.87" height="5.41" fill="#e6e4f0"/>
<rect x="99.03" y="521.86" width="17.87" height="5.41" fill="#e4e2ef"/>
<rect x="99.03" y="526.68" width="17.87" height="5.41" fill="#e6e3f0"/>
<rect x="99.03" y="531.49" width="17.87" height="4.81" fill="#e0deed"/>
<rect x="119.20" y="295.70" width="17.97" height="5.41" fill="#bcb6d8"/>
<rect x="119.20" y="300.51" width="17.97" height="5.41" fill="#d1cce4"/>
<rect x="119.20" y="305.32" width="17.97" height="5.41" fill="#d4d0e6"/>
<rect x="119.20" y="310.14" width="17.97" height="5.41" fill="#d5d1e6"/>
<rect x="119.20" y="314.95" width="17.97" height="5.41" fill="#d0cce4"/>
<rect x="119.20" y="319.76" width="17.97" height="5.41" fill="#d4d0e6"/>
<rect x="119.20" y="324.57" width="17.97" height="5.41" fill="#e5e2f0"/>
<rect x="119.20" y="329.38" width="17.97" height="5.41" fill="#e5e2f0"/>
<rect x="119.20" y="334.20" width="17.97" height="5.41" fill="#e0deed"/>
<rect x="119.20" y="339.01" width="17.97" height="5.41" fill="#dad7ea"/>
<rect x="119.20" y="343.82" width="17.97" height="5.41" fill="#faf9fc"/>
<rect x="119.20" y="348.63" width="17.97" height="5.41" fill="#f6f5fa"/>
<rect x="119.20" y="353.44" width="17.97" height="5.41" fill="#faf9fc"/>
<rect x="119.20" y="358.26" width="17.97" height="5.41" fill="#f9f8fb"/>
<rect x="119.20" y="363.07" width="17.97" height="5.41" fill="#f2f0f7"/>
<rect x="119.20" y="367.88" width="17.97" height="5.41" fill="#e9e7f2"/>
<rect x="119.20" y="372.69" width="17.97" height="5.41" fill="#f0eef6"/>
<rect x="119.20" y="377.50" width="17.97" height="5.41" fill="#eceaf4"/>
<rect x="119.20" y="382.32" width="17.97" height="5.41" fill="#f69d45"/>
<rect x="119.20" y="387.13" width="17.97" height="5.41" fill="#f69d44"/>
<rect x="119.20" y="391.94" width="17.97" height="5.41" fill="#f59b42"/>
<rect x="119.20" y="396.75" width="17.97" height="5.41" fill="#f7a34b"/>
<rect x="119.20" y="401.56" width="17.97" height="5.41" fill="#f7a34b"/>
<rect x="119.20" y="406.38" width="17.97" height="5.41" fill="#f7a24a"/>
<rect x="119.20" y="411.19" width="17.97" height="5.41" fill="#fcb660"/>
<rect x="119.20" y="416.00" width="17.97" height="5.41" fill="#fcb45f"/>
<rect x="119.20" y="420.81" width="17.97" height="5.41" fill="#fdb762"/>
<rect x="119.20" y="425.62" width="17.97" height="5.41" fill="#fdb661"/>
<rect x="119.20" y="430.44" width="17.97" height="5.41" fill="#fcb55f"/>
<rect x="119.20" y="435.25" width="17.97" height="5.41" fill="#fdb762"/>
<rect x="119.20" y="440.06" width="17.97" height="5.41" fill="#fcb660"/>
<rect x="119.20" y="444.87" width="17.97" height="5.41" fill="#fbb05a"/>
<rect x="119.20" y="449.68" width="17.97" height="5.41" fill="#fcb35e"/>
<rect x="119.20" y="454.50" width="17.97" height="5.41" fill="#fff6ec"/>
<rect x="119.20" y="459.31" width="17.97" height="5.41" fill="#fff5ea"/>
<rect x="119.20" y="464.12" width="17.97" height="5.41" fill="#e4e2ef"/>
<rect x="119.20" y="468.93" width="17.97" height="5.41" fill="#e9e7f2"/>
<rect x="119.20" y="473.74" width="17.97" height="5.41" fill="#fee9ce"/>
<rect x="119.20" y="478.56" width="17.97" height="5.41" fill="#fdc681"/>
<rect x="119.20" y="483.37" width="17.97" height="5.41" fill="#fecb8c"/>
<rect x="119.20" y="488.18" width="17.97" height="5.41" fill="#fed8a9"/>
<rect x="119.20" y="492.99" width="17.97" height="5.41" fill="#feca8b"/>
<rect x="119.20" y="497.80" width="17.97" height="5.41" fill="#fecf95"/>
<rect x="119.20" y="502.62" width="17.97" height="5.41" fill="#fedaae"/>
<rect x="119.20" y="507.43" width="17.97" height="5.41" fill="#fedfb9"/>
<rect x="119.20" y="512.24" width="17.97" height="5.41" fill="#feddb5"/>
<rect x="119.20" y="517.05" width="17.97" height="5.41" fill="#feca8a"/>
<rect x="119.20" y="521.86" width="17.97" height="5.41" fill="#fdc885"/>
<rect x="119.20" y="526.68" width="17.97" height="5.41" fill="#fed4a0"/>
<rect x="119.20" y="531.49" width="17.97" height="4.81" fill="#fdc683"/>
<rect x="136.57" y="295.70" width="17.97" height="5.41" fill="#e1dfee"/>
<rect x="136.57" y="300.51" width="17.97" height="5.41" fill="#dbd8ea"/>
<rect x="136.57" y="305.32" width="17.97" height="5.41" fill="#bab4d7"/>
<rect x="136.57" y="310.14" width="17.97" height="5.41" fill="#bbb5d7"/>
<rect x="136.57" y="314.95" width="17.97" height="5.41" fill="#b8b2d6"/>
<rect x="136.57" y="319.76" width="17.97" height="5.41" fill="#dad7e9"/>
<rect x="136.57" y="324.57" width="17.97" height="5.41" fill="#dedbec"/>
<rect x="136.57" y="329.38" width="17.97" height="5.41" fill="#c1bcdb"/>
<rect x="136.57" y="334.20" width="17.97" height="5.41" fill="#dad7e9"/>
<rect x="136.57" y="339.01" width="17.97" height="5.41" fill="#dfdcec"/>
<rect x="136.57" y="343.82" width="17.97" height="5.41" fill="#dad7e9"/>
<rect x="136.57" y="348.63" width="17.97" height="5.41" fill="#d7d3e8"/>
<rect x="136.57" y="353.44" width="17.97" height="5.41" fill="#beb8d9"/>
<rect x="136.57" y="358.26" width="17.97" height="5.41" fill="#bcb5d8"/>
<rect x="136.57" y="363.07" width="17.97" height="5.41" fill="#d9d5e9"/>
<rect x="136.57" y="367.88" width="17.97" height="5.41" fill="#cac6e0"/>
<rect x="136.57" y="372.69" width="17.97" height="5.41" fill="#c6c1de"/>
<rect x="136.57" y="377.50" width="17.97" height="5.41" fill="#ccc7e1"/>
<rect x="136.57" y="382.32" width="17.97" height="5.41" fill="#fbb25c"/>
<rect x="136.57" y="387.13" width="17.97" height="5.41" fill="#fecd91"/>
<rect x="136.57" y="391.94" width="17.97" height="5.41" fill="#fdc683"/>
<rect x="136.57" y="396.75" width="17.97" height="5.41" fill="#fecb8d"/>
<rect x="136.57" y="401.56" width="17.97" height="5.41" fill="#fed19a"/>
<rect x="136.57" y="406.38" width="17.97" height="5.41" fill="#fecb8d"/>
<rect x="136.57" y="411.19" width="17.97" height="5.41" fill="#fece94"/>
<rect x="136.57" y="416.00" width="17.97" height="5.41" fill="#fdc178"/>
<rect x="136.57" y="420.81" width="17.97" height="5.41" fill="#fdbe70"/>
<rect x="136.57" y="425.62" width="17.97" height="5.41" fill="#fdc37b"/>
<rect x="136.57" y="430.44" width="17.97" height="5.41" fill="#fdca8a"/>
<rect x="136.57" y="435.25" width="17.97" height="5.41" fill="#f8a64e"/>
<rect x="136.57" y="440.06" width="17.97" height="5.41" fill="#f9a750"/>
<rect x="136.57" y="444.87" width="17.97" height="5.41" fill="#f9a953"/>
<rect x="136.57" y="449.68" width="17.97" height="5.41" fill="#f9aa54"/>
<rect x="136.57" y="454.50" width="17.97" height="5.41" fill="#fed7a6"/>
<rect x="136.57" y="459.31" width="17.97" height="5.41" fill="#fed8a9"/>
<rect x="136.57" y="464.12" width="17.97" height="5.41" fill="#fedbb1"/>
<rect x="136.57" y="468.93" width="17.97" height="5.41" fill="#fed8a9"/>
<rect x="136.57" y="473.74" width="17.97" height="5.41" fill="#fdbb6a"/>
<rect x="136.57" y="478.56" width="17.97" height="5.41" fill="#fdbd6e"/>
<rect x="136.57" y="483.37" width="17.97" height="5.41" fill="#fdbe70"/>
<rect x="136.57" y="488.18" width="17.97" height="5.41" fill="#fdbb69"/>
<rect x="136.57" y="492.99" width="17.97" height="5.41" fill="#fdbd6f"/>
<rect x="136.57" y="497.80" width="17.97" height="5.41" fill="#fdbb6a"/>
<rect x="136.57" y="502.62" width="17.97" height="5.41" fill="#fdba67"/>
<rect x="136.57" y="507.43" width="17.97" height="5.41" fill="#fdbb6a"/>
<rect x="136.57" y="512.24" width="17.97" height="5.41" fill="#fdbc6d"/>
<rect x="136.57" y="517.05" width="17.97" height="5.41" fill="#fdba68"/>
<rect x="136.57" y="521.86" width="17.97" height="5.41" fill="#fdbb6a"/>
<rect x="136.57" y="526.68" width="17.97" height="5.41" fill="#fee4c3"/>
<rect x="136.57" y="531.49" width="17.97" height="4.81" fill="#fee5c6"/>
<rect x="153.93" y="295.70" width="17.37" height="5.41" fill="#bfb9da"/>
<rect x="153.93" y="300.51" width="17.37" height="5.41" fill="#bfb9d9"/>
<rect x="153.93" y="305.32" width="17.37" height="5.41" fill="#c3bedc"/>
<rect x="153.93" y="310.14" width="17.37" height="5.41" fill="#beb8d9"/>
<rect x="153.93" y="314.95" width="17.37" height="5.41" fill="#bcb6d8"/>
<rect x="153.93" y="319.76" width="17.37" height="5.41" fill="#c5c0dd"/>
<rect x="153.93" y="324.57" width="17.37" height="5.41" fill="#c4bedc"/>
<rect x="153.93" y="329.38" width="17.37" height="5.41" fill="#c2bcdb"/>
<rect x="153.93" y="334.20" width="17.37" height="5.41" fill="#bfb9da"/>
<rect x="153.93" y="339.01" width="17.37" height="5.41" fill="#beb8d9"/>
<rect x="153.93" y="343.82" width="17.37" height="5.41" fill="#e5e3f0"/>
<rect x="153.93" y="348.63" width="17.37" height="5.41" fill="#e4e2ef"/>
<rect x="153.93" y="353.44" width="17.37" height="5.41" fill="#e4e2ef"/>
<rect x="153.93" y="358.26" width="17.37" height="5.41" fill="#e5e2f0"/>
<rect x="153.93" y="363.07" width="17.37" height="5.41" fill="#cac6e0"/>
<rect x="153.93" y="367.88" width="17.37" height="5.41" fill="#d2cee5"/>
<rect x="153.93" y="372.69" width="17.37" height="5.41" fill="#d3cfe5"/>
<rect x="153.93" y="377.50" width="17.37" height="5.41" fill="#dbd7ea"/>
<rect x="153.93" y="382.32" width="17.37" height="5.41" fill="#fdc37a"/>
<rect x="153.93" y="387.13" width="17.37" height="5.41" fill="#f7a149"/>
<rect x="153.93" y="391.94" width="17.37" height="5.41" fill="#f9a851"/>
<rect x="153.93" y="396.75" width="17.37" height="5.41" fill="#fdc074"/>
<rect x="153.93" y="401.56" width="17.37" height="5.41" fill="#fdbf71"/>
<rect x="153.93" y="406.38" width="17.37" height="5.41" fill="#fdbd6f"/>
<rect x="153.93" y="411.19" width="17.37" height="5.41" fill="#fdbc6c"/>
<rect x="153.93" y="416.00" width="17.37" height="5.41" fill="#fdbb6b"/>
<rect x="153.93" y="420.81" width="17.37" height="5.41" fill="#fdb864"/>
<rect x="153.93" y="425.62" width="17.37" height="5.41" fill="#fdbc6b"/>
<rect x="153.93" y="430.44" width="17.37" height="5.41" fill="#fdbc6b"/>
<rect x="153.93" y="435.25" width="17.37" height="5.41" fill="#fdb762"/>
<rect x="153.93" y="440.06" width="17.37" height="5.41" fill="#fdb864"/>
<rect x="153.93" y="444.87" width="17.37" height="5.41" fill="#fdc075"/>
<rect x="153.93" y="449.68" width="17.37" height="5.41" fill="#fdc279"/>
<rect x="153.93" y="454.50" width="17.37" height="5.41" fill="#feead1"/>
<rect x="153.93" y="459.31" width="17.37" height="5.41" fill="#feecd5"/>
<rect x="153.93" y="464.12" width="17.37" height="5.41" fill="#feebd3"/>
<rect x="153.93" y="468.93" width="17.37" height="5.41" fill="#fee8cd"/>
<rect x="153.93" y="473.74" width="17.37" height="5.41" fill="#fdca8a"/>
<rect x="153.93" y="478.56" width="17.37" height="5.41" fill="#fecf95"/>
<rect x="153.93" y="483.37" width="17.37" height="5.41" fill="#fece94"/>
<rect x="153.93" y="488.18" width="17.37" height="5.41" fill="#feca8a"/>
<rect x="153.93" y="492.99" width="17.37" height="5.41" fill="#fecb8d"/>
<rect x="153.93" y="497.80" width="17.37" height="5.41" fill="#feca8b"/>
<rect x="153.93" y="502.62" width="17.37" height="5.41" fill="#fece93"/>
<rect x="153.93" y="507.43" width="17.37" height="5.41" fill="#fecc90"/>
<rect x="153.93" y="512.24" width="17.37" height="5.41" fill="#fedfb8"/>
<rect x="153.93" y="517.05" width="17.37" height="5.41" fill="#fedbaf"/>
<rect x="153.93" y="521.86" width="17.37" height="5.41" fill="#fedeb6"/>
<rect x="153.93" y="526.68" width="17.37" height="5.41" fill="#fee0bb"/>
<rect x="153.93" y="531.49" width="17.37" height="4.81" fill="#fee6c9"/>
</g>
<g transform="rotate(0.02 200 400) scale(0.25)">
<text x="699.20" y="1197.62" font-size="14.0" fill="#3c3c3c">MALAT1</text>
<text x="699.20" y="1216.87" font-size="14.0" fill="#3c3c3c">CENPU</text>
<text x="699.20" y="1236.12" font-size="14.0" fill="#3c3c3c">DTL</text>
<text x="699.20" y="1255.37" font-size="14.0" fill="#3c3c3c">RRM2</text>
<text x="699.20" y="1274.62" font-size="14.0" fill="#3c3c3c">TMEM106A</text>
<text x="699.20" y="1293.86" font-size="14.0" fill="#3c3c3c">PAPLN</text>
<text x="699.20" y="1313.11" font-size="14.0" fill="#3c3c3c">TNFRSF13C</text>
<text x="699.20" y="1332.36" font-size="14.0" fill="#3c3c3c">E2F1</text>
<text x="699.20" y="1351.61" font-size="14.0" fill="#3c3c3c">SNX22</text>
<text x="699.20" y="1370.86" font-size="14.0" fill="#3c3c3c">TRIP13</text>
<text x="699.20" y="1390.10" font-size="14.0" fill="#3c3c3c">CDH6A</text>
<text x="699.20" y="1409.35" font-size="14.0" fill="#3c3c3c">TSPOAP1</text>
<text x="699.20" y="1428.60" font-size="14.0" fill="#3c3c3c">PKMYT1</text>
<text x="699.20" y="1447.85" font-size="14.0" fill="#3c3c3c">TRABD</text>
<text x="699.20" y="1467.10" font-size="14.0" fill="#3c3c3c">ALOX5</text>
<text x="699.20" y="1486.34" font-size="14.0" fill="#3c3c3c">PDGFC</text>
<text x="699.20" y="1505.59" font-size="14.0" fill="#3c3c3c">ARHGAP32</text>
<text x="699.20" y="1524.84" font-size="14.0" fill="#3c3c3c">IRAK1</text>
<text x="699.20" y="1544.09" font-size="14.0" fill="#3c3c3c">IL10RA</text>
<text x="699.20" y="1563.34" font-size="14.0" fill="#3c3c3c">ITGB2</text>
<text x="699.20" y="1582.58" font-size="14.0" fill="#3c3c3c">BBC3</text>
<text x="699.20" y="1601.83" font-size="14.0" fill="#3c3c3c">CCR7</text>
<text x="699.20" y="1621.08" font-size="14.0" fill="#3c3c3c">LTB</text>
<text x="699.20" y="1640.33" font-size="14.0" fill="#3c3c3c">BAIAP2L1</text>
<text x="699.20" y="1659.58" font-size="14.0" fill="#3c3c3c">PHLDA3</text>
<text x="699.20" y="1678.82" font-size="14.0" fill="#3c3c3c">AKT1S1</text>
<text x="699.20" y="1698.07" font-size="14.0" fill="#3c3c3c">BAX</text>
<text x="699.20" y="1717.32" font-size="14.0" fill="#3c3c3c">SESN2</text>
<text x="699.20" y="1736.57" font-size="14.0" fill="#3c3c3c">FDXR</text>
<text x="699.20" y="1755.82" font-size="14.0" fill="#3c3c3c">SULF2</text>
<text x="699.20" y="1775.06" font-size="14.0" fill="#3c3c3c">PVT1</text>
<text x="699.20" y="1794.31" font-size="14.0" fill="#3c3c3c">RPS27L</text>
<text x="699.20" y="1813.56" font-size="14.0" fill="#3c3c3c">MIR34AHG</text>
<text x="699.20" y="1832.81" font-size="14.0" fill="#3c3c3c">HSPA8</text>
<text x="699.20" y="1852.06" font-size="14.0" fill="#3c3c3c">DNAJA1</text>
<text x="699.20" y="1871.30" font-size="14.0" fill="#3c3c3c">CHORDC1</text>
<text x="699.20" y="1890.55" font-size="14.0" fill="#3c3c3c">HSPH1</text>
<text x="699.20" y="1909.80" font-size="14.0" fill="#3c3c3c">PLK2</text>
<text x="699.20" y="1929.05" font-size="14.0" fill="#3c3c3c">TNFRSF10B</text>
<text x="699.20" y="1948.30" font-size="14.0" fill="#3c3c3c">ZMAT3</text>
<text x="699.20" y="1967.54" font-size="14.0" fill="#3c3c3c">MDM2</text>
<text x="699.20" y="1986.79" font-size="14.0" fill="#3c3c3c">SESN1</text>
<text x="699.20" y="2006.04" font-size="14.0" fill="#3c3c3c">PIK3IP1</text>
<text x="699.20" y="2025.29" font-size="14.0" fill="#3c3c3c">CCNG1</text>
<text x="699.20" y="2044.54" font-size="14.0" fill="#3c3c3c">RRM2B</text>
<text x="699.20" y="2063.78" font-size="14.0" fill="#3c3c3c">TP53INP1</text>
<text x="699.20" y="2083.03" font-size="14.0" fill="#3c3c3c">RAD52</text>
<text x="699.20" y="2102.28" font-size="14.0" fill="#3c3c3c">TENT5C</text>
<text x="699.20" y="2121.53" font-size="14.0" fill="#3c3c3c">DEDD2</text>
<text x="699.20" y="2140.78" font-size="14.0" fill="#3c3c3c">GRK3</text>
</g>
<path d="M192.5,297.4 C198.5,297.4 201.6,298.2 201.6,302.5 L201.6,334.5 C201.6,337.8 204,338.7 210.8,338.8 C204,338.9 201.6,339.8 201.6,343.1 L201.6,376.3 C201.6,380.6 198.5,381.3 192.5,381.3" fill="none" stroke="#231f20" stroke-width="1.2"/>
<path d="M192.5,384.2 C198.5,384.2 201.2,385 201.2,389.5 L201.2,456.5 C201.2,459.8 203.5,460.8 209.4,460.9 C203.5,461 201.2,462 201.2,465.3 L201.2,533 C201.2,537.2 198.5,537.9 192.5,537.9" fill="none" stroke="#231f20" stroke-width="1.2"/>
<text x="214.90" y="330.00" font-size="7.0" fill="#3a3a3a" textLength="23.60" lengthAdjust="spacingAndGlyphs" stroke="#3a3a3a" stroke-width="0.12">(Down)</text>
<text x="214.90" y="337.60" font-size="7.4" fill="#534ca8" textLength="23.60" lengthAdjust="spacingAndGlyphs" stroke="#534ca8" stroke-width="0.12">CENPU</text>
<text x="217.00" y="345.20" font-size="7.4" fill="#55557a" textLength="19.00" lengthAdjust="spacingAndGlyphs" stroke="#55557a" stroke-width="0.12">RRM2</text>
<text x="215.30" y="357.10" font-size="11.6" fill="#38338a" textLength="22.10" lengthAdjust="spacingAndGlyphs" stroke="#38338a" stroke-width="0.12">E2F1</text>
<text x="213.20" y="366.00" font-size="7.6" fill="#4a429e" textLength="26.30" lengthAdjust="spacingAndGlyphs" stroke="#4a429e" stroke-width="0.12">PKMYT1</text>
<text x="219.90" y="390.30" font-size="7.0" fill="#3a3a3a" textLength="13.30" lengthAdjust="spacingAndGlyphs" stroke="#3a3a3a" stroke-width="0.12">(UP)</text>
<text x="215.80" y="397.80" font-size="7.6" fill="#8445a6" textLength="22.00" lengthAdjust="spacingAndGlyphs" stroke="#8445a6" stroke-width="0.12">IL10RA</text>
<text x="218.00" y="405.40" font-size="7.6" fill="#32a653" textLength="17.70" lengthAdjust="spacingAndGlyphs" stroke="#32a653" stroke-width="0.12">BBC3</text>
<text x="217.50" y="413.00" font-size="7.6" fill="#8445a6" textLength="17.80" lengthAdjust="spacingAndGlyphs" stroke="#8445a6" stroke-width="0.12">CCR7</text>
<text x="220.50" y="421.30" font-size="7.6" fill="#7d42a0" textLength="11.80" lengthAdjust="spacingAndGlyphs" stroke="#7d42a0" stroke-width="0.12">LTB</text>
<text x="207.00" y="433.00" font-size="10.0" fill="#e4483a" textLength="39.30" lengthAdjust="spacingAndGlyphs" stroke="#e4483a" stroke-width="0.12">PHLDA3</text>
<text x="214.40" y="442.00" font-size="7.6" fill="#e2423e" textLength="24.20" lengthAdjust="spacingAndGlyphs" stroke="#e2423e" stroke-width="0.12">AKT1S1</text>
<text x="217.90" y="453.80" font-size="10.6" fill="#178c4c" textLength="18.30" lengthAdjust="spacingAndGlyphs" stroke="#178c4c" stroke-width="0.12">BAX</text>
<text x="211.20" y="461.80" font-size="7.6" fill="#25a05a" textLength="30.40" lengthAdjust="spacingAndGlyphs" stroke="#25a05a" stroke-width="0.12">MIR34HG</text>
<text x="218.90" y="469.50" font-size="7.6" fill="#25a05a" textLength="14.90" lengthAdjust="spacingAndGlyphs" stroke="#25a05a" stroke-width="0.12">PLK2</text>
<text x="210.30" y="477.50" font-size="7.6" fill="#6e3d9e" textLength="33.20" lengthAdjust="spacingAndGlyphs" stroke="#6e3d9e" stroke-width="0.12">TNFRS10B</text>
<text x="215.00" y="485.70" font-size="7.6" fill="#1d9c6a" textLength="22.70" lengthAdjust="spacingAndGlyphs" stroke="#1d9c6a" stroke-width="0.12">ZMAT3</text>
<text x="216.00" y="493.80" font-size="7.6" fill="#1b8f66" textLength="21.70" lengthAdjust="spacingAndGlyphs" stroke="#1b8f66" stroke-width="0.12">MDM2</text>
<text x="215.70" y="501.80" font-size="7.6" fill="#ec6434" textLength="21.30" lengthAdjust="spacingAndGlyphs" stroke="#ec6434" stroke-width="0.12">SESN1</text>
<text x="210.50" y="512.50" font-size="9.8" fill="#e65034" textLength="31.70" lengthAdjust="spacingAndGlyphs" stroke="#e65034" stroke-width="0.12">PIK3IP1</text>
<text x="210.50" y="521.20" font-size="7.6" fill="#2aa05e" textLength="31.10" lengthAdjust="spacingAndGlyphs" stroke="#2aa05e" stroke-width="0.12">TP53INP1</text>
<text x="215.00" y="529.00" font-size="7.6" fill="#8350b0" textLength="23.30" lengthAdjust="spacingAndGlyphs" stroke="#8350b0" stroke-width="0.12">DEDD2</text>
<defs><linearGradient id="cbar" x1="0" x2="1" y1="0" y2="0"><stop offset="0" stop-color="#5e3c99"/><stop offset="0.25" stop-color="#b2abd2"/><stop offset="0.5" stop-color="#ffffff"/><stop offset="0.75" stop-color="#fdb863"/><stop offset="1" stop-color="#e66101"/></linearGradient></defs>
<rect x="39.20" y="539.50" width="103.90" height="5.40" fill="url(#cbar)" />
<text x="38.90" y="547.40" font-size="7.4" fill="#333" transform="rotate(90 38.90 547.40)" stroke="#333" stroke-width="0.12">−3</text>
<text x="55.10" y="547.40" font-size="7.4" fill="#333" transform="rotate(90 55.10 547.40)" stroke="#333" stroke-width="0.12">−2</text>
<text x="71.70" y="547.40" font-size="7.4" fill="#333" transform="rotate(90 71.70 547.40)" stroke="#333" stroke-width="0.12">−1</text>
<text x="87.90" y="547.40" font-size="7.4" fill="#333" transform="rotate(90 87.90 547.40)" stroke="#333" stroke-width="0.12">0</text>
<text x="105.70" y="547.40" font-size="7.4" fill="#333" transform="rotate(90 105.70 547.40)" stroke="#333" stroke-width="0.12">1</text>
<text x="121.70" y="547.40" font-size="7.4" fill="#333" transform="rotate(90 121.70 547.40)" stroke="#333" stroke-width="0.12">2</text>
<text x="137.70" y="547.40" font-size="7.4" fill="#333" transform="rotate(90 137.70 547.40)" stroke="#333" stroke-width="0.12">3</text>
<text x="226.90" y="17.50" font-size="13.0" font-weight="bold" fill="#000" textLength="8.70" lengthAdjust="spacingAndGlyphs">D</text>
<text x="340.80" y="15.30" font-size="9.2" textLength="96.90" lengthAdjust="spacingAndGlyphs" stroke="#231f20" stroke-width="0.12">GSEA enrichment plot:</text>
<defs><linearGradient id="gsbar" x1="0" x2="1" y1="0" y2="0"><stop offset="0" stop-color="#db4452"/><stop offset="0.25" stop-color="#e05664"/><stop offset="0.38" stop-color="#e46a78"/><stop offset="0.41" stop-color="#f0b0c6"/><stop offset="0.5" stop-color="#e4d6ee"/><stop offset="0.7" stop-color="#c2badf"/><stop offset="0.74" stop-color="#7468bc"/><stop offset="1" stop-color="#43379a"/></linearGradient></defs>
<line x1="297.50" y1="34.00" x2="297.50" y2="79.60" stroke="#f1f1f1" stroke-width="0.5" />
<line x1="313.60" y1="34.00" x2="313.60" y2="79.60" stroke="#f1f1f1" stroke-width="0.5" />
<line x1="329.70" y1="34.00" x2="329.70" y2="79.60" stroke="#f1f1f1" stroke-width="0.5" />
<line x1="345.80" y1="34.00" x2="345.80" y2="79.60" stroke="#f1f1f1" stroke-width="0.5" />
<line x1="361.90" y1="34.00" x2="361.90" y2="79.60" stroke="#f1f1f1" stroke-width="0.5" />
<line x1="282.00" y1="41.30" x2="381.90" y2="41.30" stroke="#f3f3f3" stroke-width="0.5" />
<line x1="282.00" y1="48.80" x2="381.90" y2="48.80" stroke="#f3f3f3" stroke-width="0.5" />
<line x1="282.00" y1="56.50" x2="381.90" y2="56.50" stroke="#f3f3f3" stroke-width="0.5" />
<line x1="282.00" y1="64.20" x2="381.90" y2="64.20" stroke="#f3f3f3" stroke-width="0.5" />
<line x1="282.00" y1="72.20" x2="381.90" y2="72.20" stroke="#f3f3f3" stroke-width="0.5" />
<line x1="282.00" y1="74.10" x2="381.90" y2="74.10" stroke="#d0d0d0" stroke-width="0.7" />
<line x1="282.00" y1="79.60" x2="381.90" y2="79.60" stroke="#e6e6e6" stroke-width="0.5" />
<rect x="282.10" y="79.60" width="0.75" height="14.80" fill="#5c5c5c"/>
<rect x="283.37" y="79.60" width="0.62" height="14.80" fill="#4a4a4a"/>
<rect x="284.81" y="79.60" width="0.60" height="14.80" fill="#595959"/>
<rect x="285.43" y="79.60" width="0.62" height="14.80" fill="#5b5b5b"/>
<rect x="287.12" y="79.60" width="0.62" height="14.80" fill="#323232"/>
<rect x="288.11" y="79.60" width="0.82" height="14.80" fill="#3d3d3d"/>
<rect x="290.09" y="79.60" width="0.84" height="14.80" fill="#3f3f3f"/>
<rect x="291.51" y="79.60" width="1.10" height="14.80" fill="#a8a8a8"/>
<rect x="293.22" y="79.60" width="0.84" height="14.80" fill="#6c6c6c"/>
<rect x="295.12" y="79.60" width="1.18" height="14.80" fill="#6e6e6e"/>
<rect x="297.30" y="79.60" width="0.98" height="14.80" fill="#565656"/>
<rect x="299.76" y="79.60" width="0.84" height="14.80" fill="#5d5d5d"/>
<rect x="302.14" y="79.60" width="1.29" height="14.80" fill="#7b7b7b"/>
<rect x="303.18" y="79.60" width="1.44" height="14.80" fill="#aeaeae"/>
<rect x="305.19" y="79.60" width="1.34" height="14.80" fill="#626262"/>
<rect x="308.21" y="79.60" width="1.13" height="14.80" fill="#a7a7a7"/>
<rect x="310.49" y="79.60" width="1.04" height="14.80" fill="#898989"/>
<rect x="312.00" y="79.60" width="1.43" height="14.80" fill="#a1a1a1"/>
<rect x="314.24" y="79.60" width="0.85" height="14.80" fill="#7f7f7f"/>
<rect x="315.78" y="79.60" width="1.12" height="14.80" fill="#979797"/>
<rect x="317.63" y="79.60" width="1.33" height="14.80" fill="#7b7b7b"/>
<rect x="320.51" y="79.60" width="1.14" height="14.80" fill="#676767"/>
<rect x="322.30" y="79.60" width="1.20" height="14.80" fill="#959595"/>
<rect x="324.37" y="79.60" width="0.85" height="14.80" fill="#747474"/>
<rect x="325.59" y="79.60" width="1.53" height="14.80" fill="#8c8c8c"/>
<rect x="328.73" y="79.60" width="0.95" height="14.80" fill="#696969"/>
<rect x="330.48" y="79.60" width="1.53" height="14.80" fill="#bcbcbc"/>
<rect x="333.04" y="79.60" width="1.10" height="14.80" fill="#aeaeae"/>
<rect x="335.14" y="79.60" width="1.37" height="14.80" fill="#b8b8b8"/>
<rect x="337.34" y="79.60" width="1.35" height="14.80" fill="#6d6d6d"/>
<rect x="340.33" y="79.60" width="1.54" height="14.80" fill="#505050"/>
<rect x="342.41" y="79.60" width="1.50" height="14.80" fill="#b1b1b1"/>
<rect x="344.74" y="79.60" width="1.36" height="14.80" fill="#898989"/>
<rect x="346.29" y="79.60" width="1.61" height="14.80" fill="#565656"/>
<rect x="348.94" y="79.60" width="1.32" height="14.80" fill="#656565"/>
<rect x="351.15" y="79.60" width="1.19" height="14.80" fill="#777777"/>
<rect x="353.41" y="79.60" width="1.40" height="14.80" fill="#949494"/>
<rect x="355.72" y="79.60" width="1.10" height="14.80" fill="#535353"/>
<rect x="357.30" y="79.60" width="1.60" height="14.80" fill="#909090"/>
<rect x="360.59" y="79.60" width="1.56" height="14.80" fill="#a7a7a7"/>
<rect x="362.06" y="79.60" width="1.45" height="14.80" fill="#acacac"/>
<rect x="364.33" y="79.60" width="0.92" height="14.80" fill="#515151"/>
<rect x="367.64" y="79.60" width="1.00" height="14.80" fill="#6b6b6b"/>
<rect x="369.73" y="79.60" width="0.97" height="14.80" fill="#757575"/>
<rect x="371.23" y="79.60" width="1.05" height="14.80" fill="#8a8a8a"/>
<rect x="373.58" y="79.60" width="1.28" height="14.80" fill="#9e9e9e"/>
<rect x="376.11" y="79.60" width="0.93" height="14.80" fill="#848484"/>
<rect x="282.00" y="94.40" width="96.00" height="3.10" fill="url(#gsbar)" />
<polyline points="281.80,65.00 281.86,64.80 281.94,64.46 282.03,64.15 282.13,63.96 282.23,62.84 282.35,62.42 282.47,62.34 282.59,61.45 282.72,60.55 282.84,60.12 282.96,59.39 283.08,58.65 283.20,57.80 283.30,57.19 283.40,56.18 283.49,55.76 283.59,55.53 283.68,56.07 283.77,55.25 283.86,54.39 283.94,54.00 284.03,53.34 284.12,52.69 284.21,52.13 284.31,51.80 284.40,51.49 284.50,51.11 284.60,50.46 284.70,51.38 284.81,50.82 284.91,49.77 285.01,49.49 285.12,48.59 285.22,48.88 285.33,47.88 285.44,47.11 285.56,46.97 285.68,47.46 285.80,46.68 285.93,46.84 286.06,46.16 286.20,46.02 286.34,45.09 286.49,45.01 286.63,45.22 286.77,45.10 286.92,44.12 287.08,43.14 287.24,42.92 287.40,42.54 287.58,42.66 287.76,42.16 287.95,41.59 288.16,41.69 288.37,41.78 288.60,41.36 288.84,40.91 289.11,40.52 289.38,40.64 289.67,41.31 289.97,40.26 290.27,40.62 290.59,40.50 290.91,39.72 291.23,41.04 291.55,40.63 291.87,39.86 292.18,39.94 292.50,40.43 292.80,40.54 293.10,39.10 293.40,38.63 293.70,39.61 294.00,39.12 294.30,38.52 294.59,38.94 294.89,38.76 295.19,38.62 295.49,38.33 295.79,38.79 296.09,39.38 296.39,38.97 296.70,39.26 297.00,37.94 297.30,37.35 297.61,37.21 297.92,37.66 298.22,37.32 298.53,38.19 298.84,36.85 299.15,36.28 299.46,36.79 299.77,36.69 300.08,36.57 300.38,36.61 300.69,36.86 301.00,36.86 301.30,37.36 301.60,36.53 301.91,36.88 302.21,36.55 302.51,36.18 302.81,36.09 303.11,36.19 303.41,37.12 303.71,37.31 304.00,37.62 304.30,37.56 304.60,38.62 304.90,37.37 305.20,37.26 305.50,37.30 305.80,37.81 306.09,38.23 306.38,37.49 306.67,38.62 306.95,38.67 307.24,38.87 307.53,38.97 307.82,39.05 308.12,38.96 308.42,39.13 308.73,40.53 309.04,39.83 309.37,39.80 309.70,39.90 310.04,40.14 310.40,40.03 310.76,39.83 311.13,40.36 311.51,40.11 311.89,41.24 312.28,40.78 312.67,40.68 313.06,41.12 313.45,40.91 313.84,41.10 314.23,41.18 314.62,41.28 315.00,42.80 315.37,42.54 315.71,42.22 316.04,42.89 316.36,42.39 316.68,42.71 316.99,43.78 317.32,43.93 317.66,44.90 318.02,44.16 318.40,44.33 318.81,44.50 319.26,43.59 319.76,43.31 320.30,43.48 320.89,44.20 321.54,44.75 322.22,45.09 322.94,45.36 323.69,45.94 324.47,46.54 325.27,47.22 326.08,47.34 326.90,49.10 327.72,48.38 328.53,49.00 329.34,48.67 330.13,48.51 330.90,49.18 331.66,50.30 332.42,50.72 333.17,51.71 333.93,52.70 334.69,52.16 335.45,52.76 336.21,53.85 336.96,53.75 337.72,54.35 338.48,54.82 339.24,55.40 339.99,56.50 340.75,57.05 341.50,58.06 342.25,58.59 343.00,59.04 343.75,59.46 344.50,59.61 345.25,59.91 346.00,60.75 346.75,60.81 347.50,61.76 348.25,62.15 349.00,61.99 349.75,62.93 350.50,64.64 351.25,65.32 352.00,65.75 352.76,66.51 353.55,67.26 354.34,66.96 355.14,66.97 355.95,67.44 356.76,66.68 357.56,67.35 358.35,67.71 359.12,69.24 359.87,69.94 360.60,70.61 361.31,70.73 361.97,70.61 362.60,71.24 363.19,70.55 363.74,71.44 364.26,70.80 364.75,70.96 365.21,70.44 365.66,71.09 366.09,71.72 366.51,72.08 366.92,72.53 367.32,72.06 367.73,71.73 368.14,72.98 368.57,73.14 369.00,73.06 369.45,72.38 369.91,71.78 370.37,72.19 370.84,72.31 371.31,73.05 371.78,73.25 372.24,73.94 372.69,74.78 373.12,74.80 373.55,74.30 373.95,74.91 374.32,75.43 374.68,75.56 375.00,75.68 375.30,75.84 375.57,75.75 375.83,76.65 376.07,75.98 376.29,76.30 376.49,75.99 376.68,75.89 376.85,76.64 377.00,76.56 377.15,75.86 377.28,76.15 377.39,75.71 377.50,76.38 377.60,76.60" fill="none" stroke="#47ab4f" stroke-width="0.9" stroke-linejoin="round"/>
<rect x="281.40" y="33.40" width="101.10" height="64.60" fill="none" stroke="#9a9a9a" stroke-width="1.0"/>
<text x="277.80" y="42.80" font-size="7.0" text-anchor="end" fill="#2a2a2a" stroke="#2a2a2a" stroke-width="0.12">0.4</text>
<text x="277.80" y="50.30" font-size="7.0" text-anchor="end" fill="#2a2a2a" stroke="#2a2a2a" stroke-width="0.12">0.3</text>
<text x="277.80" y="58.00" font-size="7.0" text-anchor="end" fill="#2a2a2a" stroke="#2a2a2a" stroke-width="0.12">0.2</text>
<text x="277.80" y="65.70" font-size="7.0" text-anchor="end" fill="#2a2a2a" stroke="#2a2a2a" stroke-width="0.12">0.1</text>
<text x="277.80" y="73.70" font-size="7.0" text-anchor="end" fill="#2a2a2a" stroke="#2a2a2a" stroke-width="0.12">0.0</text>
<text x="296.80" y="28.40" font-size="7.2" fill="#2a2a2a" textLength="71.30" lengthAdjust="spacingAndGlyphs" stroke="#2a2a2a" stroke-width="0.12">Hallmark P53 pathway</text>
<line x1="427.08" y1="32.30" x2="427.08" y2="77.00" stroke="#f1f1f1" stroke-width="0.5" />
<line x1="443.07" y1="32.30" x2="443.07" y2="77.00" stroke="#f1f1f1" stroke-width="0.5" />
<line x1="459.05" y1="32.30" x2="459.05" y2="77.00" stroke="#f1f1f1" stroke-width="0.5" />
<line x1="475.03" y1="32.30" x2="475.03" y2="77.00" stroke="#f1f1f1" stroke-width="0.5" />
<line x1="491.02" y1="32.30" x2="491.02" y2="77.00" stroke="#f1f1f1" stroke-width="0.5" />
<line x1="411.70" y1="35.30" x2="511.50" y2="35.30" stroke="#f3f3f3" stroke-width="0.5" />
<line x1="411.70" y1="43.40" x2="511.50" y2="43.40" stroke="#f3f3f3" stroke-width="0.5" />
<line x1="411.70" y1="51.30" x2="511.50" y2="51.30" stroke="#f3f3f3" stroke-width="0.5" />
<line x1="411.70" y1="59.20" x2="511.50" y2="59.20" stroke="#f3f3f3" stroke-width="0.5" />
<line x1="411.70" y1="67.00" x2="511.50" y2="67.00" stroke="#f3f3f3" stroke-width="0.5" />
<line x1="411.70" y1="74.80" x2="511.50" y2="74.80" stroke="#f3f3f3" stroke-width="0.5" />
<line x1="411.70" y1="34.40" x2="511.50" y2="34.40" stroke="#d0d0d0" stroke-width="0.7" />
<line x1="411.70" y1="77.00" x2="511.50" y2="77.00" stroke="#e6e6e6" stroke-width="0.5" />
<rect x="418.09" y="77.00" width="0.60" height="14.20" fill="#626262"/>
<rect x="428.90" y="77.00" width="0.63" height="14.20" fill="#878787"/>
<rect x="457.20" y="77.00" width="1.19" height="14.20" fill="#464646"/>
<rect x="459.21" y="77.00" width="0.88" height="14.20" fill="#696969"/>
<rect x="460.72" y="77.00" width="1.27" height="14.20" fill="#515151"/>
<rect x="463.48" y="77.00" width="1.14" height="14.20" fill="#999999"/>
<rect x="464.85" y="77.00" width="0.80" height="14.20" fill="#404040"/>
<rect x="466.12" y="77.00" width="0.99" height="14.20" fill="#5a5a5a"/>
<rect x="468.47" y="77.00" width="1.13" height="14.20" fill="#919191"/>
<rect x="470.82" y="77.00" width="0.79" height="14.20" fill="#3c3c3c"/>
<rect x="472.28" y="77.00" width="1.12" height="14.20" fill="#2f2f2f"/>
<rect x="475.24" y="77.00" width="0.90" height="14.20" fill="#757575"/>
<rect x="476.85" y="77.00" width="1.27" height="14.20" fill="#858585"/>
<rect x="478.79" y="77.00" width="1.31" height="14.20" fill="#818181"/>
<rect x="479.92" y="77.00" width="1.43" height="14.20" fill="#9d9d9d"/>
<rect x="481.68" y="77.00" width="1.26" height="14.20" fill="#808080"/>
<rect x="484.10" y="77.00" width="1.11" height="14.20" fill="#626262"/>
<rect x="486.55" y="77.00" width="1.34" height="14.20" fill="#5f5f5f"/>
<rect x="487.69" y="77.00" width="1.39" height="14.20" fill="#909090"/>
<rect x="489.77" y="77.00" width="1.40" height="14.20" fill="#676767"/>
<rect x="492.30" y="77.00" width="0.93" height="14.20" fill="#5d5d5d"/>
<rect x="493.72" y="77.00" width="0.89" height="14.20" fill="#787878"/>
<rect x="496.19" y="77.00" width="1.39" height="14.20" fill="#404040"/>
<rect x="497.39" y="77.00" width="1.25" height="14.20" fill="#9a9a9a"/>
<rect x="499.61" y="77.00" width="1.22" height="14.20" fill="#616161"/>
<rect x="501.81" y="77.00" width="0.92" height="14.20" fill="#464646"/>
<rect x="503.51" y="77.00" width="1.20" height="14.20" fill="#979797"/>
<rect x="504.82" y="77.00" width="1.27" height="14.20" fill="#888888"/>
<rect x="411.70" y="91.20" width="95.30" height="4.30" fill="url(#gsbar)" />
<polyline points="411.40,34.30 411.51,34.41 411.65,34.58 411.80,34.63 411.98,34.72 412.16,34.79 412.37,35.39 412.58,36.61 412.81,36.93 413.04,37.14 413.28,37.23 413.53,36.93 413.79,37.35 414.04,38.35 414.30,37.45 414.55,37.97 414.79,38.39 415.02,38.31 415.24,38.53 415.47,38.96 415.71,39.60 415.97,39.58 416.24,39.78 416.54,39.34 416.87,39.42 417.24,39.26 417.64,39.36 418.10,39.22 418.60,39.86 419.16,40.79 419.78,40.81 420.46,41.29 421.17,42.00 421.92,42.41 422.71,43.37 423.51,43.90 424.33,43.85 425.16,44.20 426.00,45.50 426.82,46.47 427.64,47.50 428.43,47.94 429.20,48.41 429.95,48.10 430.70,49.51 431.45,49.47 432.20,50.57 432.95,50.41 433.70,50.77 434.45,51.57 435.20,51.97 435.95,52.30 436.70,53.45 437.45,54.21 438.20,54.75 438.95,54.97 439.70,55.13 440.45,55.65 441.21,56.19 441.96,57.00 442.72,58.09 443.48,58.55 444.24,58.82 444.99,59.33 445.75,60.76 446.51,61.31 447.27,61.92 448.03,62.55 448.78,63.29 449.54,63.73 450.30,64.68 451.07,65.26 451.86,64.16 452.67,65.01 453.49,67.09 454.31,66.54 455.13,67.09 455.94,68.02 456.74,68.24 457.52,69.16 458.27,68.67 458.99,68.57 459.67,69.16 460.31,69.38 460.90,69.49 461.43,70.42 461.91,70.90 462.35,71.16 462.75,71.20 463.11,71.61 463.45,71.74 463.77,71.61 464.07,72.17 464.37,72.47 464.67,72.58 464.98,72.97 465.30,72.43 465.64,72.64 466.00,72.64 466.38,73.54 466.77,73.72 467.17,74.60 467.57,74.89 467.98,74.22 468.38,73.57 468.79,73.96 469.19,73.87 469.59,73.91 469.99,73.55 470.38,74.13 470.76,74.28 471.14,74.48 471.50,74.56 471.85,74.07 472.20,73.20 472.54,73.61 472.87,73.67 473.20,73.74 473.52,74.44 473.84,74.34 474.16,74.99 474.47,74.73 474.78,74.79 475.09,74.72 475.39,74.78 475.70,73.86 476.00,74.38 476.30,74.18 476.60,73.55 476.89,73.87 477.17,73.88 477.46,74.26 477.74,74.16 478.02,73.89 478.30,72.78 478.58,73.60 478.86,73.91 479.14,73.69 479.42,73.37 479.71,73.47 480.00,72.52 480.29,72.64 480.57,72.34 480.85,71.65 481.12,71.82 481.40,71.85 481.68,72.40 481.96,72.29 482.24,71.00 482.54,70.05 482.84,70.29 483.16,70.26 483.49,69.82 483.83,69.23 484.20,69.35 484.59,68.86 485.00,68.66 485.43,69.10 485.88,68.91 486.35,68.20 486.82,67.48 487.30,67.35 487.78,67.97 488.26,67.14 488.73,67.53 489.20,66.45 489.65,65.95 490.09,65.93 490.50,65.11 490.90,64.88 491.30,63.98 491.68,64.25 492.07,64.47 492.44,63.64 492.81,63.41 493.18,62.87 493.53,61.63 493.88,63.00 494.22,62.64 494.55,62.37 494.88,61.85 495.19,61.29 495.50,61.78 495.80,59.98 496.08,59.48 496.36,58.96 496.62,58.58 496.88,58.58 497.13,57.73 497.37,56.79 497.61,56.14 497.84,56.28 498.07,56.36 498.30,56.10 498.53,56.07 498.77,54.86 499.00,54.62 499.23,54.09 499.45,53.14 499.67,52.08 499.88,51.95 500.09,50.89 500.29,50.19 500.50,49.21 500.71,49.59 500.92,48.68 501.14,47.68 501.36,46.92 501.60,46.20 501.84,45.64 502.10,44.20 502.38,43.30 502.69,43.16 503.02,42.95 503.37,41.48 503.72,40.76 504.08,39.65 504.44,37.89 504.80,37.43 505.13,36.47 505.45,36.51 505.74,35.75 506.00,35.18 506.22,34.02 506.40,34.30" fill="none" stroke="#47ab4f" stroke-width="0.9" stroke-linejoin="round"/>
<rect x="411.10" y="31.70" width="101.00" height="64.70" fill="none" stroke="#9a9a9a" stroke-width="1.0"/>
<text x="407.50" y="37.30" font-size="7.0" text-anchor="end" fill="#2a2a2a" stroke="#2a2a2a" stroke-width="0.12">0.0</text>
<text x="407.50" y="45.40" font-size="7.0" text-anchor="end" fill="#2a2a2a" stroke="#2a2a2a" stroke-width="0.12">−0.1</text>
<text x="407.50" y="53.30" font-size="7.0" text-anchor="end" fill="#2a2a2a" stroke="#2a2a2a" stroke-width="0.12">−0.2</text>
<text x="407.50" y="61.20" font-size="7.0" text-anchor="end" fill="#2a2a2a" stroke="#2a2a2a" stroke-width="0.12">−0.3</text>
<text x="407.50" y="69.00" font-size="7.0" text-anchor="end" fill="#2a2a2a" stroke="#2a2a2a" stroke-width="0.12">−0.4</text>
<text x="407.50" y="76.80" font-size="7.0" text-anchor="end" fill="#2a2a2a" stroke="#2a2a2a" stroke-width="0.12">−0.5</text>
<text x="428.50" y="27.20" font-size="7.2" fill="#2a2a2a" textLength="66.70" lengthAdjust="spacingAndGlyphs" stroke="#2a2a2a" stroke-width="0.12">Hallmark E2F targets</text>
<line x1="297.83" y1="126.20" x2="297.83" y2="171.00" stroke="#f1f1f1" stroke-width="0.5" />
<line x1="313.77" y1="126.20" x2="313.77" y2="171.00" stroke="#f1f1f1" stroke-width="0.5" />
<line x1="329.70" y1="126.20" x2="329.70" y2="171.00" stroke="#f1f1f1" stroke-width="0.5" />
<line x1="345.63" y1="126.20" x2="345.63" y2="171.00" stroke="#f1f1f1" stroke-width="0.5" />
<line x1="361.57" y1="126.20" x2="361.57" y2="171.00" stroke="#f1f1f1" stroke-width="0.5" />
<line x1="282.50" y1="130.80" x2="381.20" y2="130.80" stroke="#f3f3f3" stroke-width="0.5" />
<line x1="282.50" y1="141.20" x2="381.20" y2="141.20" stroke="#f3f3f3" stroke-width="0.5" />
<line x1="282.50" y1="151.60" x2="381.20" y2="151.60" stroke="#f3f3f3" stroke-width="0.5" />
<line x1="282.50" y1="162.00" x2="381.20" y2="162.00" stroke="#f3f3f3" stroke-width="0.5" />
<line x1="282.50" y1="172.30" x2="381.20" y2="172.30" stroke="#f3f3f3" stroke-width="0.5" />
<line x1="282.50" y1="129.40" x2="381.20" y2="129.40" stroke="#d0d0d0" stroke-width="0.7" />
<line x1="282.50" y1="171.00" x2="381.20" y2="171.00" stroke="#e6e6e6" stroke-width="0.5" />
<rect x="299.85" y="171.00" width="0.92" height="15.50" fill="#949494"/>
<rect x="302.13" y="171.00" width="0.74" height="15.50" fill="#999999"/>
<rect x="303.09" y="171.00" width="0.85" height="15.50" fill="#a8a8a8"/>
<rect x="325.88" y="171.00" width="0.80" height="15.50" fill="#c7c7c7"/>
<rect x="327.86" y="171.00" width="0.89" height="15.50" fill="#a8a8a8"/>
<rect x="331.81" y="171.00" width="1.33" height="15.50" fill="#7b7b7b"/>
<rect x="334.27" y="171.00" width="1.20" height="15.50" fill="#868686"/>
<rect x="335.58" y="171.00" width="1.15" height="15.50" fill="#878787"/>
<rect x="337.70" y="171.00" width="1.33" height="15.50" fill="#3f3f3f"/>
<rect x="339.82" y="171.00" width="1.34" height="15.50" fill="#838383"/>
<rect x="342.05" y="171.00" width="0.81" height="15.50" fill="#8b8b8b"/>
<rect x="343.50" y="171.00" width="1.09" height="15.50" fill="#4d4d4d"/>
<rect x="345.29" y="171.00" width="0.67" height="15.50" fill="#202020"/>
<rect x="346.02" y="171.00" width="0.83" height="15.50" fill="#919191"/>
<rect x="347.93" y="171.00" width="0.87" height="15.50" fill="#3b3b3b"/>
<rect x="349.16" y="171.00" width="0.91" height="15.50" fill="#414141"/>
<rect x="350.84" y="171.00" width="0.96" height="15.50" fill="#898989"/>
<rect x="352.62" y="171.00" width="1.12" height="15.50" fill="#838383"/>
<rect x="353.89" y="171.00" width="1.05" height="15.50" fill="#292929"/>
<rect x="355.77" y="171.00" width="0.90" height="15.50" fill="#898989"/>
<rect x="356.94" y="171.00" width="1.04" height="15.50" fill="#2f2f2f"/>
<rect x="358.50" y="171.00" width="0.63" height="15.50" fill="#393939"/>
<rect x="360.29" y="171.00" width="0.65" height="15.50" fill="#949494"/>
<rect x="361.72" y="171.00" width="0.68" height="15.50" fill="#494949"/>
<rect x="362.49" y="171.00" width="1.06" height="15.50" fill="#777777"/>
<rect x="363.95" y="171.00" width="0.62" height="15.50" fill="#636363"/>
<rect x="365.94" y="171.00" width="1.06" height="15.50" fill="#3f3f3f"/>
<rect x="367.69" y="171.00" width="1.12" height="15.50" fill="#555555"/>
<rect x="368.59" y="171.00" width="0.92" height="15.50" fill="#1e1e1e"/>
<rect x="369.85" y="171.00" width="0.81" height="15.50" fill="#2d2d2d"/>
<rect x="372.05" y="171.00" width="0.62" height="15.50" fill="#282828"/>
<rect x="373.58" y="171.00" width="1.10" height="15.50" fill="#3c3c3c"/>
<rect x="375.24" y="171.00" width="0.84" height="15.50" fill="#454545"/>
<rect x="376.31" y="171.00" width="0.91" height="15.50" fill="#676767"/>
<rect x="282.50" y="186.50" width="95.00" height="3.90" fill="url(#gsbar)" />
<polyline points="282.20,129.40 282.46,129.11 282.76,130.18 283.11,130.26 283.50,130.06 283.93,131.13 284.39,131.68 284.88,132.58 285.38,133.47 285.90,133.59 286.44,133.91 286.98,134.36 287.52,134.35 288.07,135.36 288.60,136.44 289.14,136.69 289.70,136.87 290.29,137.19 290.88,137.35 291.49,137.66 292.11,138.23 292.74,138.57 293.37,139.14 293.99,139.15 294.61,140.21 295.23,140.83 295.83,140.79 296.43,140.40 297.00,141.34 297.56,142.45 298.11,142.30 298.65,142.39 299.19,142.45 299.72,143.07 300.24,142.74 300.76,143.44 301.28,143.29 301.80,143.80 302.31,143.73 302.83,143.64 303.35,143.12 303.87,143.29 304.40,143.72 304.93,144.51 305.45,144.92 305.97,144.88 306.48,145.53 307.00,146.33 307.51,146.44 308.03,146.56 308.55,146.83 309.08,147.72 309.61,148.27 310.14,148.09 310.69,148.77 311.24,148.93 311.80,149.06 312.37,150.19 312.94,150.79 313.51,150.59 314.09,151.01 314.67,151.59 315.26,151.56 315.85,151.95 316.45,152.68 317.06,152.15 317.69,152.98 318.32,153.81 318.97,154.33 319.63,153.97 320.30,154.71 320.99,154.78 321.70,155.66 322.43,156.36 323.18,156.78 323.93,156.77 324.70,157.05 325.47,158.06 326.25,158.03 327.03,158.86 327.81,159.52 328.59,159.74 329.37,161.27 330.14,161.27 330.90,162.41 331.66,161.38 332.43,160.94 333.21,162.39 333.99,163.27 334.78,163.57 335.56,164.08 336.34,163.75 337.11,164.36 337.88,164.72 338.63,165.47 339.37,166.56 340.10,166.93 340.81,167.41 341.50,167.30 342.18,167.43 342.84,167.82 343.50,167.90 344.15,168.68 344.79,168.17 345.42,169.15 346.03,168.41 346.63,168.92 347.22,168.38 347.79,169.17 348.34,168.92 348.88,168.90 349.40,169.05 349.90,168.53 350.38,168.07 350.84,167.39 351.28,168.50 351.70,168.25 352.11,168.17 352.50,168.39 352.88,169.41 353.24,168.29 353.59,168.54 353.93,168.35 354.26,168.62 354.58,167.65 354.89,167.68 355.20,168.15 355.49,168.62 355.76,168.73 356.01,167.53 356.24,167.09 356.46,166.59 356.67,165.56 356.87,164.77 357.07,165.13 357.27,164.92 357.47,164.47 357.69,164.68 357.91,163.66 358.15,163.68 358.40,163.38 358.67,163.13 358.95,163.19 359.23,163.04 359.53,162.98 359.83,162.92 360.13,163.63 360.44,163.00 360.75,163.23 361.06,163.16 361.37,162.68 361.68,162.90 361.99,162.25 362.30,162.75 362.60,162.08 362.90,161.80 363.20,161.96 363.50,162.22 363.80,162.35 364.10,162.35 364.39,161.80 364.69,161.09 364.99,161.31 365.29,161.25 365.59,160.57 365.89,160.97 366.19,160.76 366.50,160.02 366.80,160.13 367.11,159.29 367.42,158.91 367.73,159.15 368.05,158.27 368.37,158.38 368.69,157.67 369.01,158.08 369.33,157.50 369.64,157.44 369.95,156.49 370.25,156.32 370.54,156.65 370.83,156.44 371.10,155.12 371.37,155.47 371.63,155.49 371.90,154.76 372.16,155.01 372.41,153.85 372.66,153.48 372.91,153.62 373.14,153.59 373.36,153.34 373.58,151.90 373.78,150.55 373.97,150.51 374.14,149.37 374.30,149.01 374.44,147.93 374.55,147.99 374.64,147.48 374.71,146.64 374.77,145.48 374.82,144.39 374.87,143.17 374.91,142.36 374.95,141.40 375.00,140.54 375.05,139.27 375.12,139.24 375.20,138.15 375.30,137.75 375.42,137.21 375.56,135.62 375.72,134.09 375.88,134.30 376.05,133.41 376.23,132.88 376.41,132.19 376.59,131.77 376.76,130.74 376.92,130.48 377.07,130.00 377.20,129.80 377.31,128.51 377.40,129.40" fill="none" stroke="#47ab4f" stroke-width="0.9" stroke-linejoin="round"/>
<rect x="281.90" y="125.60" width="99.90" height="65.40" fill="none" stroke="#9a9a9a" stroke-width="1.0"/>
<text x="278.30" y="132.80" font-size="7.0" text-anchor="end" fill="#2a2a2a" stroke="#2a2a2a" stroke-width="0.12">0.0</text>
<text x="278.30" y="143.20" font-size="7.0" text-anchor="end" fill="#2a2a2a" stroke="#2a2a2a" stroke-width="0.12">−0.1</text>
<text x="278.30" y="153.60" font-size="7.0" text-anchor="end" fill="#2a2a2a" stroke="#2a2a2a" stroke-width="0.12">−0.2</text>
<text x="278.30" y="164.00" font-size="7.0" text-anchor="end" fill="#2a2a2a" stroke="#2a2a2a" stroke-width="0.12">−0.4</text>
<text x="278.30" y="174.30" font-size="7.0" text-anchor="end" fill="#2a2a2a" stroke="#2a2a2a" stroke-width="0.12">−0.5</text>
<text x="289.40" y="121.30" font-size="7.2" fill="#2a2a2a" textLength="85.80" lengthAdjust="spacingAndGlyphs" stroke="#2a2a2a" stroke-width="0.12">Reactome DNA replication</text>
<line x1="427.25" y1="128.30" x2="427.25" y2="170.40" stroke="#f1f1f1" stroke-width="0.5" />
<line x1="443.20" y1="128.30" x2="443.20" y2="170.40" stroke="#f1f1f1" stroke-width="0.5" />
<line x1="459.15" y1="128.30" x2="459.15" y2="170.40" stroke="#f1f1f1" stroke-width="0.5" />
<line x1="475.10" y1="128.30" x2="475.10" y2="170.40" stroke="#f1f1f1" stroke-width="0.5" />
<line x1="491.05" y1="128.30" x2="491.05" y2="170.40" stroke="#f1f1f1" stroke-width="0.5" />
<line x1="411.90" y1="133.50" x2="511.60" y2="133.50" stroke="#f3f3f3" stroke-width="0.5" />
<line x1="411.90" y1="143.80" x2="511.60" y2="143.80" stroke="#f3f3f3" stroke-width="0.5" />
<line x1="411.90" y1="154.00" x2="511.60" y2="154.00" stroke="#f3f3f3" stroke-width="0.5" />
<line x1="411.90" y1="164.40" x2="511.60" y2="164.40" stroke="#f3f3f3" stroke-width="0.5" />
<line x1="411.90" y1="129.90" x2="511.60" y2="129.90" stroke="#d0d0d0" stroke-width="0.7" />
<line x1="411.90" y1="170.40" x2="511.60" y2="170.40" stroke="#e6e6e6" stroke-width="0.5" />
<rect x="412.70" y="170.40" width="1.80" height="13.80" fill="#646464"/>
<rect x="417.17" y="170.40" width="1.80" height="13.80" fill="#606060"/>
<rect x="424.45" y="170.40" width="1.80" height="13.80" fill="#aaaaaa"/>
<rect x="426.88" y="170.40" width="1.80" height="13.80" fill="#8f8f8f"/>
<rect x="431.47" y="170.40" width="1.80" height="13.80" fill="#646464"/>
<rect x="438.72" y="170.40" width="1.80" height="13.80" fill="#acacac"/>
<rect x="455.70" y="170.40" width="1.00" height="13.80" fill="#494949"/>
<rect x="457.25" y="170.40" width="1.38" height="13.80" fill="#898989"/>
<rect x="459.65" y="170.40" width="1.21" height="13.80" fill="#3c3c3c"/>
<rect x="461.48" y="170.40" width="0.91" height="13.80" fill="#6e6e6e"/>
<rect x="462.92" y="170.40" width="1.43" height="13.80" fill="#3c3c3c"/>
<rect x="465.65" y="170.40" width="1.00" height="13.80" fill="#737373"/>
<rect x="467.48" y="170.40" width="1.40" height="13.80" fill="#767676"/>
<rect x="469.53" y="170.40" width="1.07" height="13.80" fill="#6f6f6f"/>
<rect x="471.25" y="170.40" width="0.90" height="13.80" fill="#656565"/>
<rect x="472.85" y="170.40" width="0.82" height="13.80" fill="#939393"/>
<rect x="474.38" y="170.40" width="0.98" height="13.80" fill="#7d7d7d"/>
<rect x="477.01" y="170.40" width="1.02" height="13.80" fill="#6a6a6a"/>
<rect x="479.59" y="170.40" width="1.07" height="13.80" fill="#494949"/>
<rect x="480.50" y="170.40" width="0.82" height="13.80" fill="#555555"/>
<rect x="482.33" y="170.40" width="0.85" height="13.80" fill="#636363"/>
<rect x="484.29" y="170.40" width="0.72" height="13.80" fill="#767676"/>
<rect x="485.18" y="170.40" width="1.11" height="13.80" fill="#252525"/>
<rect x="487.61" y="170.40" width="0.86" height="13.80" fill="#262626"/>
<rect x="488.84" y="170.40" width="0.69" height="13.80" fill="#414141"/>
<rect x="490.84" y="170.40" width="1.22" height="13.80" fill="#757575"/>
<rect x="492.82" y="170.40" width="0.67" height="13.80" fill="#7d7d7d"/>
<rect x="493.74" y="170.40" width="1.11" height="13.80" fill="#7d7d7d"/>
<rect x="495.59" y="170.40" width="1.02" height="13.80" fill="#7b7b7b"/>
<rect x="497.85" y="170.40" width="0.78" height="13.80" fill="#2d2d2d"/>
<rect x="499.02" y="170.40" width="0.89" height="13.80" fill="#1a1a1a"/>
<rect x="501.39" y="170.40" width="0.67" height="13.80" fill="#313131"/>
<rect x="501.76" y="170.40" width="1.12" height="13.80" fill="#1e1e1e"/>
<rect x="503.99" y="170.40" width="0.72" height="13.80" fill="#2c2c2c"/>
<rect x="506.34" y="170.40" width="0.79" height="13.80" fill="#3c3c3c"/>
<rect x="411.90" y="184.20" width="95.10" height="3.80" fill="url(#gsbar)" />
<polyline points="411.80,129.90 411.90,130.14 412.01,130.55 412.14,131.13 412.28,131.02 412.43,131.10 412.60,130.79 412.78,131.09 412.97,131.56 413.17,131.69 413.38,131.09 413.60,131.47 413.83,130.78 414.06,132.30 414.30,132.14 414.54,132.45 414.76,132.47 414.99,132.65 415.21,132.36 415.44,132.65 415.69,133.29 415.94,132.44 416.22,132.41 416.53,132.54 416.86,132.64 417.23,133.11 417.64,133.22 418.09,133.65 418.60,133.92 419.16,133.93 419.78,135.35 420.46,135.75 421.17,134.67 421.92,135.10 422.71,135.40 423.51,137.24 424.33,137.57 425.16,137.86 426.00,138.97 426.82,139.36 427.64,140.64 428.43,141.51 429.20,142.71 429.95,142.22 430.70,143.21 431.45,143.40 432.20,143.44 432.95,143.43 433.70,143.76 434.45,144.01 435.20,144.32 435.95,145.22 436.70,145.88 437.45,146.26 438.20,148.00 438.95,147.65 439.70,149.27 440.45,149.87 441.21,150.54 441.96,150.34 442.72,151.55 443.48,151.80 444.24,152.73 444.99,153.52 445.75,153.26 446.51,153.31 447.27,154.04 448.03,154.91 448.78,154.41 449.54,154.73 450.30,155.74 451.06,156.12 451.81,157.75 452.57,157.91 453.33,159.15 454.09,159.26 454.84,160.11 455.60,160.77 456.36,161.02 457.11,160.30 457.87,160.16 458.63,160.88 459.39,161.96 460.14,163.18 460.90,162.90 461.67,164.18 462.45,164.27 463.25,163.86 464.05,164.15 464.86,164.49 465.67,165.39 466.47,165.50 467.26,164.62 468.03,165.18 468.78,165.30 469.51,165.48 470.21,165.30 470.88,166.35 471.50,166.35 472.08,166.47 472.62,167.05 473.13,166.26 473.61,167.09 474.06,167.39 474.50,166.73 474.91,167.52 475.32,167.33 475.72,167.67 476.12,166.40 476.52,166.97 476.93,167.37 477.36,167.52 477.80,166.77 478.26,166.36 478.73,166.25 479.20,166.58 479.69,167.22 480.17,166.41 480.65,167.34 481.13,167.31 481.61,166.95 482.07,166.90 482.53,166.67 482.97,165.80 483.40,165.73 483.81,165.25 484.20,165.37 484.56,164.95 484.90,165.14 485.21,165.27 485.50,164.53 485.78,164.80 486.04,164.96 486.31,163.96 486.57,164.10 486.84,163.69 487.11,162.84 487.40,162.60 487.71,162.38 488.04,161.72 488.40,162.03 488.79,161.91 489.21,161.78 489.65,160.96 490.11,160.84 490.58,159.16 491.06,158.91 491.54,158.58 492.03,158.40 492.51,158.18 492.98,158.54 493.44,157.86 493.89,157.87 494.31,157.15 494.70,157.28 495.07,156.02 495.42,155.33 495.76,154.79 496.08,155.08 496.39,155.12 496.69,153.89 496.98,153.91 497.27,153.29 497.55,152.72 497.84,152.51 498.12,152.26 498.41,151.63 498.70,151.45 499.00,149.77 499.31,149.37 499.62,148.01 499.94,147.80 500.26,147.21 500.58,146.39 500.90,145.59 501.21,144.41 501.52,143.29 501.83,142.20 502.13,141.55 502.41,140.97 502.69,141.32 502.95,140.24 503.20,139.59 503.44,137.81 503.67,137.60 503.89,135.71 504.11,135.70 504.32,135.53 504.52,134.03 504.71,133.50 504.89,133.60 505.06,132.39 505.22,131.99 505.36,131.28 505.49,130.35 505.60,129.52 505.70,129.90" fill="none" stroke="#47ab4f" stroke-width="0.9" stroke-linejoin="round"/>
<rect x="411.30" y="127.70" width="100.90" height="61.10" fill="none" stroke="#9a9a9a" stroke-width="1.0"/>
<text x="407.70" y="135.50" font-size="7.0" text-anchor="end" fill="#2a2a2a" stroke="#2a2a2a" stroke-width="0.12">0.0</text>
<text x="407.70" y="145.80" font-size="7.0" text-anchor="end" fill="#2a2a2a" stroke="#2a2a2a" stroke-width="0.12">−0.1</text>
<text x="407.70" y="156.00" font-size="7.0" text-anchor="end" fill="#2a2a2a" stroke="#2a2a2a" stroke-width="0.12">−0.2</text>
<text x="407.70" y="166.40" font-size="7.0" text-anchor="end" fill="#2a2a2a" stroke="#2a2a2a" stroke-width="0.12">−0.4</text>
<text x="430.30" y="112.50" font-size="7.2" fill="#2a2a2a" textLength="62.70" lengthAdjust="spacingAndGlyphs" stroke="#2a2a2a" stroke-width="0.12">Reactome cell cycle</text>
<text x="443.30" y="121.40" font-size="7.2" fill="#2a2a2a" textLength="37.70" lengthAdjust="spacingAndGlyphs" stroke="#2a2a2a" stroke-width="0.12">checkpoints</text>
<line x1="298.17" y1="219.40" x2="298.17" y2="265.20" stroke="#f1f1f1" stroke-width="0.5" />
<line x1="314.03" y1="219.40" x2="314.03" y2="265.20" stroke="#f1f1f1" stroke-width="0.5" />
<line x1="329.90" y1="219.40" x2="329.90" y2="265.20" stroke="#f1f1f1" stroke-width="0.5" />
<line x1="345.77" y1="219.40" x2="345.77" y2="265.20" stroke="#f1f1f1" stroke-width="0.5" />
<line x1="361.63" y1="219.40" x2="361.63" y2="265.20" stroke="#f1f1f1" stroke-width="0.5" />
<line x1="282.90" y1="227.50" x2="381.50" y2="227.50" stroke="#f3f3f3" stroke-width="0.5" />
<line x1="282.90" y1="238.00" x2="381.50" y2="238.00" stroke="#f3f3f3" stroke-width="0.5" />
<line x1="282.90" y1="248.50" x2="381.50" y2="248.50" stroke="#f3f3f3" stroke-width="0.5" />
<line x1="282.90" y1="258.80" x2="381.50" y2="258.80" stroke="#f3f3f3" stroke-width="0.5" />
<line x1="282.90" y1="227.70" x2="381.50" y2="227.70" stroke="#d0d0d0" stroke-width="0.7" />
<line x1="282.90" y1="265.20" x2="381.50" y2="265.20" stroke="#e6e6e6" stroke-width="0.5" />
<rect x="299.75" y="265.20" width="1.66" height="14.40" fill="#a6a6a6"/>
<rect x="302.70" y="265.20" width="1.77" height="14.40" fill="#a6a6a6"/>
<rect x="303.58" y="265.20" width="1.79" height="14.40" fill="#8d8d8d"/>
<rect x="307.45" y="265.20" width="1.08" height="14.40" fill="#b5b5b5"/>
<rect x="309.42" y="265.20" width="1.45" height="14.40" fill="#7a7a7a"/>
<rect x="312.41" y="265.20" width="1.50" height="14.40" fill="#515151"/>
<rect x="314.75" y="265.20" width="1.80" height="14.40" fill="#a2a2a2"/>
<rect x="317.83" y="265.20" width="1.41" height="14.40" fill="#979797"/>
<rect x="322.06" y="265.20" width="1.26" height="14.40" fill="#5b5b5b"/>
<rect x="325.65" y="265.20" width="1.50" height="14.40" fill="#626262"/>
<rect x="329.00" y="265.20" width="1.58" height="14.40" fill="#9e9e9e"/>
<rect x="331.28" y="265.20" width="1.23" height="14.40" fill="#5f5f5f"/>
<rect x="332.18" y="265.20" width="1.24" height="14.40" fill="#979797"/>
<rect x="335.28" y="265.20" width="0.98" height="14.40" fill="#919191"/>
<rect x="336.44" y="265.20" width="0.87" height="14.40" fill="#2b2b2b"/>
<rect x="337.82" y="265.20" width="1.18" height="14.40" fill="#3e3e3e"/>
<rect x="339.76" y="265.20" width="1.00" height="14.40" fill="#727272"/>
<rect x="342.06" y="265.20" width="1.10" height="14.40" fill="#868686"/>
<rect x="343.92" y="265.20" width="1.25" height="14.40" fill="#575757"/>
<rect x="345.74" y="265.20" width="0.79" height="14.40" fill="#9c9c9c"/>
<rect x="348.61" y="265.20" width="0.79" height="14.40" fill="#8a8a8a"/>
<rect x="350.40" y="265.20" width="1.16" height="14.40" fill="#474747"/>
<rect x="351.42" y="265.20" width="0.90" height="14.40" fill="#1a1a1a"/>
<rect x="354.44" y="265.20" width="1.28" height="14.40" fill="#2f2f2f"/>
<rect x="356.47" y="265.20" width="1.01" height="14.40" fill="#979797"/>
<rect x="357.48" y="265.20" width="1.30" height="14.40" fill="#5d5d5d"/>
<rect x="359.07" y="265.20" width="1.31" height="14.40" fill="#7c7c7c"/>
<rect x="361.97" y="265.20" width="1.41" height="14.40" fill="#191919"/>
<rect x="362.98" y="265.20" width="1.19" height="14.40" fill="#434343"/>
<rect x="365.93" y="265.20" width="1.40" height="14.40" fill="#434343"/>
<rect x="367.56" y="265.20" width="0.99" height="14.40" fill="#3f3f3f"/>
<rect x="369.05" y="265.20" width="0.87" height="14.40" fill="#1e1e1e"/>
<rect x="282.90" y="279.60" width="94.60" height="3.70" fill="url(#gsbar)" />
<polyline points="282.70,227.70 282.93,225.89 283.21,227.30 283.53,228.36 283.88,229.71 284.27,229.98 284.68,230.12 285.12,231.03 285.59,230.74 286.07,231.14 286.56,231.66 287.06,232.93 287.57,234.88 288.09,235.47 288.60,236.23 289.12,236.38 289.67,236.73 290.23,236.77 290.81,237.13 291.41,236.39 292.02,236.90 292.64,237.37 293.26,239.04 293.89,240.10 294.52,241.18 295.15,242.24 295.77,242.02 296.39,242.87 297.00,244.05 297.60,243.84 298.21,244.54 298.81,244.45 299.42,243.82 300.03,244.64 300.64,244.78 301.24,245.57 301.85,245.89 302.46,246.70 303.07,245.98 303.68,248.09 304.28,249.03 304.89,248.78 305.50,248.50 306.11,249.01 306.73,249.80 307.36,250.24 307.99,250.61 308.63,249.64 309.26,249.70 309.89,251.22 310.51,251.58 311.13,250.93 311.73,251.06 312.32,250.94 312.90,251.24 313.46,252.76 314.00,252.95 314.51,253.94 315.00,254.11 315.46,253.39 315.90,253.61 316.32,255.50 316.74,254.97 317.15,254.66 317.56,255.89 317.98,256.07 318.40,256.24 318.84,257.30 319.30,256.21 319.79,256.96 320.30,256.69 320.85,256.49 321.44,256.88 322.05,258.37 322.69,258.64 323.35,258.00 324.01,258.23 324.68,259.99 325.34,260.82 325.99,260.23 326.62,261.99 327.22,261.49 327.79,260.82 328.32,261.09 328.80,261.86 329.23,262.65 329.61,262.73 329.94,261.92 330.25,261.33 330.53,260.43 330.79,260.63 331.03,260.35 331.27,260.57 331.51,259.74 331.77,259.59 332.03,259.20 332.32,258.69 332.64,258.32 333.00,258.11 333.39,257.78 333.80,258.46 334.23,258.44 334.67,257.48 335.13,257.84 335.59,257.76 336.07,258.23 336.55,257.40 337.03,256.79 337.51,256.05 338.00,255.95 338.47,255.98 338.94,255.69 339.40,255.18 339.86,255.25 340.31,254.93 340.77,254.75 341.24,253.89 341.70,253.98 342.16,253.26 342.62,252.86 343.08,253.11 343.53,254.25 343.98,254.14 344.42,253.42 344.85,252.79 345.28,252.98 345.70,253.15 346.11,253.00 346.51,251.96 346.90,251.41 347.29,250.64 347.67,250.04 348.04,249.21 348.41,248.90 348.78,247.47 349.15,247.04 349.51,247.54 349.88,246.89 350.25,247.20 350.62,246.20 351.00,246.05 351.38,246.29 351.78,245.54 352.18,245.24 352.58,246.81 352.98,245.85 353.39,245.24 353.79,244.92 354.18,245.01 354.57,244.94 354.95,245.36 355.31,245.36 355.66,244.52 355.99,243.90 356.30,242.74 356.59,241.79 356.86,241.39 357.11,241.68 357.34,241.15 357.57,240.89 357.78,240.47 357.98,239.26 358.18,239.51 358.38,237.82 358.57,236.51 358.77,235.59 358.97,235.67 359.18,234.75 359.40,233.69 359.62,233.55 359.84,233.65 360.06,232.80 360.28,232.05 360.49,232.21 360.71,232.06 360.93,231.79 361.15,230.53 361.38,230.28 361.61,230.07 361.85,228.62 362.09,229.42 362.34,229.16 362.60,228.71 362.87,229.90 363.15,229.37 363.43,228.63 363.72,228.65 364.02,229.07 364.32,229.50 364.63,229.32 364.94,228.83 365.25,228.71 365.56,228.61 365.88,228.44 366.19,228.93 366.49,228.89 366.80,229.11 367.11,228.64 367.43,228.25 367.76,228.30 368.10,228.11 368.43,228.71 368.77,227.74 369.11,227.69 369.43,227.37 369.75,226.33 370.06,226.76 370.35,226.54 370.62,225.02 370.87,225.58 371.10,225.97 371.30,225.09 371.46,225.85 371.59,225.26 371.70,224.04 371.80,224.19 371.88,223.61 371.96,222.61 372.03,221.49 372.11,222.12 372.21,221.84 372.32,222.41 372.45,222.57 372.61,222.16 372.80,221.99 373.03,223.30 373.31,224.14 373.61,224.25 373.94,223.90 374.29,223.58 374.65,223.97 375.01,225.57 375.36,226.01 375.71,226.05 376.03,225.75 376.33,226.54 376.60,226.53 376.82,227.13 377.00,227.70" fill="none" stroke="#47ab4f" stroke-width="0.9" stroke-linejoin="round"/>
<rect x="282.30" y="218.80" width="99.80" height="65.40" fill="none" stroke="#9a9a9a" stroke-width="1.0"/>
<text x="280.00" y="229.20" font-size="7.0" text-anchor="end" fill="#2a2a2a" stroke="#2a2a2a" stroke-width="0.12">0.0</text>
<text x="280.00" y="239.70" font-size="7.0" text-anchor="end" fill="#2a2a2a" stroke="#2a2a2a" stroke-width="0.12">−0.1</text>
<text x="280.00" y="250.20" font-size="7.0" text-anchor="end" fill="#2a2a2a" stroke="#2a2a2a" stroke-width="0.12">−0.2</text>
<text x="280.00" y="260.50" font-size="7.0" text-anchor="end" fill="#2a2a2a" stroke="#2a2a2a" stroke-width="0.12">−0.3</text>
<text x="292.50" y="215.20" font-size="7.2" fill="#2a2a2a" textLength="80.50" lengthAdjust="spacingAndGlyphs" stroke="#2a2a2a" stroke-width="0.12">Hallmark MYC targets V1</text>
<line x1="427.33" y1="219.30" x2="427.33" y2="265.50" stroke="#f1f1f1" stroke-width="0.5" />
<line x1="443.27" y1="219.30" x2="443.27" y2="265.50" stroke="#f1f1f1" stroke-width="0.5" />
<line x1="459.20" y1="219.30" x2="459.20" y2="265.50" stroke="#f1f1f1" stroke-width="0.5" />
<line x1="475.13" y1="219.30" x2="475.13" y2="265.50" stroke="#f1f1f1" stroke-width="0.5" />
<line x1="491.07" y1="219.30" x2="491.07" y2="265.50" stroke="#f1f1f1" stroke-width="0.5" />
<line x1="412.00" y1="234.00" x2="511.50" y2="234.00" stroke="#f3f3f3" stroke-width="0.5" />
<line x1="412.00" y1="244.80" x2="511.50" y2="244.80" stroke="#f3f3f3" stroke-width="0.5" />
<line x1="412.00" y1="254.80" x2="511.50" y2="254.80" stroke="#f3f3f3" stroke-width="0.5" />
<line x1="412.00" y1="265.00" x2="511.50" y2="265.00" stroke="#f3f3f3" stroke-width="0.5" />
<line x1="412.00" y1="234.00" x2="511.50" y2="234.00" stroke="#d0d0d0" stroke-width="0.7" />
<line x1="412.00" y1="265.50" x2="511.50" y2="265.50" stroke="#e6e6e6" stroke-width="0.5" />
<rect x="413.81" y="265.50" width="1.80" height="15.10" fill="#acacac"/>
<rect x="416.04" y="265.50" width="1.80" height="15.10" fill="#5a5a5a"/>
<rect x="420.11" y="265.50" width="1.80" height="15.10" fill="#a5a5a5"/>
<rect x="424.41" y="265.50" width="1.80" height="15.10" fill="#757575"/>
<rect x="427.87" y="265.50" width="1.80" height="15.10" fill="#838383"/>
<rect x="431.31" y="265.50" width="1.80" height="15.10" fill="#6d6d6d"/>
<rect x="435.17" y="265.50" width="1.80" height="15.10" fill="#747474"/>
<rect x="438.42" y="265.50" width="1.80" height="15.10" fill="#aeaeae"/>
<rect x="440.42" y="265.50" width="1.80" height="15.10" fill="#969696"/>
<rect x="444.52" y="265.50" width="1.48" height="15.10" fill="#4f4f4f"/>
<rect x="447.94" y="265.50" width="1.80" height="15.10" fill="#636363"/>
<rect x="451.00" y="265.50" width="1.80" height="15.10" fill="#5a5a5a"/>
<rect x="453.65" y="265.50" width="1.80" height="15.10" fill="#a3a3a3"/>
<rect x="457.15" y="265.50" width="1.80" height="15.10" fill="#868686"/>
<rect x="460.81" y="265.50" width="0.97" height="15.10" fill="#929292"/>
<rect x="462.32" y="265.50" width="1.20" height="15.10" fill="#626262"/>
<rect x="464.83" y="265.50" width="1.68" height="15.10" fill="#1f1f1f"/>
<rect x="467.19" y="265.50" width="1.50" height="15.10" fill="#232323"/>
<rect x="469.28" y="265.50" width="1.35" height="15.10" fill="#2d2d2d"/>
<rect x="471.20" y="265.50" width="1.67" height="15.10" fill="#2f2f2f"/>
<rect x="474.54" y="265.50" width="1.59" height="15.10" fill="#151515"/>
<rect x="475.72" y="265.50" width="1.70" height="15.10" fill="#3f3f3f"/>
<rect x="479.31" y="265.50" width="1.26" height="15.10" fill="#3b3b3b"/>
<rect x="481.04" y="265.50" width="1.78" height="15.10" fill="#242424"/>
<rect x="482.96" y="265.50" width="1.80" height="15.10" fill="#6a6a6a"/>
<rect x="486.81" y="265.50" width="1.44" height="15.10" fill="#a7a7a7"/>
<rect x="490.80" y="265.50" width="1.80" height="15.10" fill="#9e9e9e"/>
<rect x="493.58" y="265.50" width="1.80" height="15.10" fill="#6d6d6d"/>
<rect x="496.41" y="265.50" width="1.67" height="15.10" fill="#747474"/>
<rect x="499.38" y="265.50" width="1.27" height="15.10" fill="#686868"/>
<rect x="502.22" y="265.50" width="1.69" height="15.10" fill="#595959"/>
<rect x="505.50" y="265.50" width="1.21" height="15.10" fill="#4e4e4e"/>
<rect x="412.00" y="280.60" width="95.00" height="3.00" fill="url(#gsbar)" />
<polyline points="412.20,231.90 412.24,232.38 412.28,231.34 412.33,231.09 412.37,229.14 412.43,229.34 412.48,228.75 412.55,228.71 412.62,228.37 412.71,226.84 412.80,226.18 412.91,226.29 413.02,225.24 413.15,224.86 413.30,224.19 413.46,224.43 413.65,224.38 413.85,223.73 414.06,223.06 414.29,222.28 414.53,223.60 414.78,223.65 415.03,223.59 415.28,223.69 415.53,223.56 415.78,224.40 416.03,224.84 416.27,223.46 416.50,223.89 416.72,224.12 416.93,223.92 417.13,223.95 417.33,224.73 417.52,224.30 417.72,224.44 417.92,224.32 418.12,222.75 418.33,223.64 418.56,223.20 418.79,222.64 419.04,222.95 419.31,223.92 419.60,222.82 419.91,222.36 420.25,222.79 420.61,221.96 420.98,222.01 421.37,222.85 421.77,223.85 422.18,224.46 422.58,225.13 422.99,225.81 423.39,225.51 423.79,225.55 424.18,225.75 424.55,226.00 424.90,227.07 425.23,227.64 425.55,226.45 425.85,227.35 426.14,227.10 426.43,227.06 426.71,228.52 426.99,229.47 427.27,230.04 427.56,230.21 427.85,231.09 428.16,230.07 428.49,230.78 428.83,230.49 429.20,230.54 429.59,230.18 430.00,231.97 430.42,233.31 430.85,233.77 431.30,233.43 431.76,233.89 432.23,233.68 432.70,234.23 433.17,235.74 433.64,236.83 434.11,237.10 434.58,237.49 435.05,237.35 435.50,237.69 435.94,237.71 436.38,238.18 436.81,237.92 437.24,238.77 437.66,238.64 438.08,238.88 438.51,238.91 438.95,239.94 439.39,240.24 439.84,239.54 440.30,239.18 440.78,239.94 441.28,240.23 441.80,240.34 442.33,240.81 442.88,242.04 443.44,241.90 444.01,242.85 444.59,242.47 445.18,242.59 445.78,243.14 446.39,243.41 447.02,243.50 447.65,243.42 448.30,243.96 448.96,244.39 449.62,245.03 450.30,246.14 450.99,246.62 451.70,247.43 452.43,247.53 453.18,247.90 453.93,248.39 454.70,248.89 455.47,249.51 456.25,249.15 457.03,249.67 457.81,249.99 458.59,250.90 459.37,251.33 460.14,250.92 460.90,251.38 461.66,251.91 462.42,251.94 463.17,252.73 463.93,252.71 464.69,251.94 465.45,252.48 466.21,253.14 466.96,252.69 467.72,253.38 468.48,251.91 469.24,253.87 469.99,253.12 470.75,253.32 471.50,253.63 472.26,253.29 473.02,254.15 473.79,254.05 474.57,253.85 475.34,253.30 476.11,254.76 476.88,255.94 477.65,255.87 478.40,256.22 479.15,257.29 479.88,257.31 480.61,257.86 481.31,258.20 482.00,258.36 482.68,258.48 483.38,259.08 484.07,259.05 484.76,259.16 485.45,258.93 486.12,258.22 486.78,258.64 487.41,259.36 488.02,260.65 488.60,260.71 489.14,259.93 489.64,261.05 490.09,262.00 490.50,262.01 490.84,261.98 491.12,261.89 491.33,261.58 491.50,262.13 491.63,261.09 491.73,260.43 491.81,259.55 491.88,259.45 491.95,259.16 492.03,258.86 492.12,259.03 492.24,259.46 492.40,258.21 492.60,258.21 492.84,257.61 493.12,257.11 493.42,256.77 493.73,256.84 494.06,255.57 494.40,256.42 494.75,255.79 495.10,254.90 495.44,253.74 495.77,254.42 496.08,254.43 496.38,254.41 496.66,253.88 496.90,254.38 497.12,254.49 497.31,254.81 497.48,253.92 497.63,253.73 497.77,252.84 497.90,252.60 498.02,252.20 498.15,252.18 498.27,252.16 498.39,252.12 498.52,252.08 498.67,252.15 498.82,251.87 499.00,251.56 499.19,251.53 499.40,252.16 499.61,252.56 499.84,253.02 500.07,254.06 500.31,252.74 500.54,253.10 500.78,252.15 501.02,252.08 501.25,251.96 501.48,252.43 501.70,253.44 501.90,254.17 502.10,253.96 502.29,254.27 502.47,254.24 502.65,253.40 502.83,254.67 503.00,254.21 503.17,254.12 503.33,254.41 503.49,254.17 503.64,254.29 503.79,255.18 503.92,254.74 504.06,254.67 504.18,254.00 504.30,253.46 504.41,254.32 504.51,254.80 504.60,254.54 504.69,255.47 504.77,254.37 504.84,254.48 504.91,253.68 504.98,253.45 505.04,253.40 505.09,252.08 505.15,252.59 505.20,251.70 505.25,250.91 505.30,249.91 505.35,249.09 505.39,247.07 505.43,245.25 505.47,244.34 505.50,242.71 505.53,240.90 505.56,239.51 505.59,238.67 505.61,236.03 505.63,233.11 505.65,232.11 505.67,230.29 505.69,229.73 505.70,229.80" fill="none" stroke="#47ab4f" stroke-width="0.9" stroke-linejoin="round"/>
<rect x="411.40" y="218.70" width="100.70" height="65.20" fill="none" stroke="#9a9a9a" stroke-width="1.0"/>
<text x="407.80" y="236.00" font-size="7.0" text-anchor="end" fill="#2a2a2a" stroke="#2a2a2a" stroke-width="0.12">0.0</text>
<text x="407.80" y="246.80" font-size="7.0" text-anchor="end" fill="#2a2a2a" stroke="#2a2a2a" stroke-width="0.12">−0.1</text>
<text x="407.80" y="256.80" font-size="7.0" text-anchor="end" fill="#2a2a2a" stroke="#2a2a2a" stroke-width="0.12">−0.2</text>
<text x="407.80" y="267.00" font-size="7.0" text-anchor="end" fill="#2a2a2a" stroke="#2a2a2a" stroke-width="0.12">−0.3</text>
<text x="432.50" y="206.40" font-size="7.2" fill="#2a2a2a" textLength="60.00" lengthAdjust="spacingAndGlyphs" stroke="#2a2a2a" stroke-width="0.12">Hallmark MTORC1</text>
<text x="448.70" y="215.30" font-size="7.2" fill="#2a2a2a" textLength="27.70" lengthAdjust="spacingAndGlyphs" stroke="#2a2a2a" stroke-width="0.12">signaling</text>
<text x="251.20" y="60.30" font-size="8.9" text-anchor="middle" fill="#444" textLength="38.60" lengthAdjust="spacingAndGlyphs" transform="rotate(-90 251.20 60.30)" stroke="#444" stroke-width="0.04">Enrichment</text>
<text x="262.60" y="60.30" font-size="8.9" text-anchor="middle" fill="#444" textLength="32.60" lengthAdjust="spacingAndGlyphs" transform="rotate(-90 262.60 60.30)" stroke="#444" stroke-width="0.04">score (ES)</text>
<text x="247.30" y="151.90" font-size="8.9" text-anchor="middle" fill="#444" textLength="38.60" lengthAdjust="spacingAndGlyphs" transform="rotate(-90 247.30 151.90)" stroke="#444" stroke-width="0.04">Enrichment</text>
<text x="258.40" y="151.90" font-size="8.9" text-anchor="middle" fill="#444" textLength="32.60" lengthAdjust="spacingAndGlyphs" transform="rotate(-90 258.40 151.90)" stroke="#444" stroke-width="0.04">score (ES)</text>
<text x="250.00" y="243.00" font-size="8.9" text-anchor="middle" fill="#444" textLength="38.60" lengthAdjust="spacingAndGlyphs" transform="rotate(-90 250.00 243.00)" stroke="#444" stroke-width="0.04">Enrichment</text>
<text x="262.00" y="243.00" font-size="8.9" text-anchor="middle" fill="#444" textLength="32.60" lengthAdjust="spacingAndGlyphs" transform="rotate(-90 262.00 243.00)" stroke="#444" stroke-width="0.04">score (ES)</text>
<text x="254.80" y="311.80" font-size="13.0" font-weight="bold" fill="#000" textLength="7.30" lengthAdjust="spacingAndGlyphs">E</text>
<text x="406.40" y="308.90" font-size="9.2" textLength="99.00" lengthAdjust="spacingAndGlyphs" stroke="#231f20" stroke-width="0.12">PDX reactome gene sets</text>
<text x="415.50" y="320.80" font-size="6.8" textLength="81.40" lengthAdjust="spacingAndGlyphs" stroke="#231f20" stroke-width="0.12">NES&lt;−2.0, P val adj &lt; .05</text>
<line x1="449.83" y1="326.90" x2="449.83" y2="414.30" stroke="#d9d9d9" stroke-width="0.7" />
<line x1="472.37" y1="326.90" x2="472.37" y2="414.30" stroke="#d9d9d9" stroke-width="0.7" />
<rect x="436.76" y="329.85" width="24.34" height="4.50" fill="#1b4f8c" />
<line x1="424.10" y1="332.10" x2="427.30" y2="332.10" stroke="#231f20" stroke-width="0.9" />
<text x="369.20" y="334.30" font-size="6.6" fill="#1e1e1e" textLength="50.80" lengthAdjust="spacingAndGlyphs" stroke="#1e1e1e" stroke-width="0.12">DNA replication</text>
<rect x="438.00" y="337.65" width="23.10" height="4.50" fill="#1b4f8c" />
<line x1="424.10" y1="339.90" x2="427.30" y2="339.90" stroke="#231f20" stroke-width="0.9" />
<text x="345.75" y="342.10" font-size="6.6" fill="#1e1e1e" textLength="74.25" lengthAdjust="spacingAndGlyphs" stroke="#1e1e1e" stroke-width="0.12">Mitotic M M G1 phases</text>
<rect x="438.00" y="345.15" width="23.10" height="4.50" fill="#4d5b6b" />
<line x1="424.10" y1="347.40" x2="427.30" y2="347.40" stroke="#231f20" stroke-width="0.9" />
<text x="358.75" y="349.60" font-size="6.6" fill="#1e1e1e" textLength="61.25" lengthAdjust="spacingAndGlyphs" stroke="#1e1e1e" stroke-width="0.12">Collagen formation</text>
<rect x="438.22" y="352.85" width="22.88" height="4.50" fill="#1b4f8c" />
<line x1="424.10" y1="355.10" x2="427.30" y2="355.10" stroke="#231f20" stroke-width="0.9" />
<text x="301.25" y="357.30" font-size="6.6" fill="#1e1e1e" textLength="118.75" lengthAdjust="spacingAndGlyphs" stroke="#1e1e1e" stroke-width="0.12">E2F mediated reg of DNA replication</text>
<rect x="438.22" y="360.45" width="22.88" height="4.50" fill="#1b4f8c" />
<line x1="424.10" y1="362.70" x2="427.30" y2="362.70" stroke="#231f20" stroke-width="0.9" />
<text x="363.75" y="364.90" font-size="6.6" fill="#1e1e1e" textLength="56.25" lengthAdjust="spacingAndGlyphs" stroke="#1e1e1e" stroke-width="0.12">G2 M checkpoints</text>
<rect x="438.56" y="368.25" width="22.54" height="4.50" fill="#1b4f8c" />
<line x1="424.10" y1="370.50" x2="427.30" y2="370.50" stroke="#231f20" stroke-width="0.9" />
<text x="366.25" y="372.70" font-size="6.6" fill="#1e1e1e" textLength="53.75" lengthAdjust="spacingAndGlyphs" stroke="#1e1e1e" stroke-width="0.12">Cell cycle mitotic</text>
<rect x="438.90" y="375.95" width="22.20" height="4.50" fill="#4d5b6b" />
<line x1="424.10" y1="378.20" x2="427.30" y2="378.20" stroke="#231f20" stroke-width="0.9" />
<text x="360.00" y="380.40" font-size="6.6" fill="#1e1e1e" textLength="60.00" lengthAdjust="spacingAndGlyphs" stroke="#1e1e1e" stroke-width="0.12">Reactome M29714</text>
<rect x="438.90" y="383.65" width="22.20" height="4.50" fill="#1b4f8c" />
<line x1="424.10" y1="385.90" x2="427.30" y2="385.90" stroke="#231f20" stroke-width="0.9" />
<text x="337.30" y="388.10" font-size="6.6" fill="#1e1e1e" textLength="82.70" lengthAdjust="spacingAndGlyphs" stroke="#1e1e1e" stroke-width="0.12">G1 S specific transcription</text>
<rect x="438.90" y="391.35" width="22.20" height="4.50" fill="#1b4f8c" />
<line x1="424.10" y1="393.60" x2="427.30" y2="393.60" stroke="#231f20" stroke-width="0.9" />
<text x="298.30" y="395.80" font-size="6.6" fill="#1e1e1e" textLength="121.70" lengthAdjust="spacingAndGlyphs" stroke="#1e1e1e" stroke-width="0.12">Act of ATR in resp to replication stress</text>
<rect x="438.90" y="399.05" width="22.20" height="4.50" fill="#1b4f8c" />
<line x1="424.10" y1="401.30" x2="427.30" y2="401.30" stroke="#231f20" stroke-width="0.9" />
<text x="311.70" y="403.50" font-size="6.6" fill="#1e1e1e" textLength="108.30" lengthAdjust="spacingAndGlyphs" stroke="#1e1e1e" stroke-width="0.12">Act of the pre replicative complex</text>
<rect x="438.90" y="406.75" width="22.20" height="4.50" fill="#1b4f8c" />
<line x1="424.10" y1="409.00" x2="427.30" y2="409.00" stroke="#231f20" stroke-width="0.9" />
<text x="346.30" y="411.20" font-size="6.6" fill="#1e1e1e" textLength="73.70" lengthAdjust="spacingAndGlyphs" stroke="#1e1e1e" stroke-width="0.12">DNA strand elongation</text>
<line x1="461.10" y1="326.90" x2="461.10" y2="414.30" stroke="#231f20" stroke-width="1.0" />
<rect x="427.30" y="326.90" width="55.70" height="87.40" fill="none" stroke="#231f20" stroke-width="1.1"/>
<line x1="427.29" y1="414.30" x2="427.29" y2="417.10" stroke="#231f20" stroke-width="0.9" />
<text x="427.29" y="427.20" font-size="7.4" text-anchor="middle" fill="#333" stroke="#333" stroke-width="0.12">−3</text>
<line x1="438.56" y1="414.30" x2="438.56" y2="417.10" stroke="#231f20" stroke-width="0.9" />
<text x="438.56" y="427.20" font-size="7.4" text-anchor="middle" fill="#333" stroke="#333" stroke-width="0.12">−2</text>
<line x1="449.83" y1="414.30" x2="449.83" y2="417.10" stroke="#231f20" stroke-width="0.9" />
<text x="449.83" y="427.20" font-size="7.4" text-anchor="middle" fill="#333" stroke="#333" stroke-width="0.12">−1</text>
<line x1="461.10" y1="414.30" x2="461.10" y2="417.10" stroke="#231f20" stroke-width="0.9" />
<text x="461.10" y="427.20" font-size="7.4" text-anchor="middle" fill="#333" stroke="#333" stroke-width="0.12">0</text>
<line x1="472.37" y1="414.30" x2="472.37" y2="417.10" stroke="#231f20" stroke-width="0.9" />
<text x="472.37" y="427.20" font-size="7.4" text-anchor="middle" fill="#333" stroke="#333" stroke-width="0.12">1</text>
<line x1="483.64" y1="414.30" x2="483.64" y2="417.10" stroke="#231f20" stroke-width="0.9" />
<text x="483.64" y="427.20" font-size="7.4" text-anchor="middle" fill="#333" stroke="#333" stroke-width="0.12">2</text>
<text x="448.90" y="440.20" font-size="8.8" fill="#222" textLength="13.00" lengthAdjust="spacingAndGlyphs" stroke="#222" stroke-width="0.12">NES</text>
<text x="449.60" y="466.00" font-size="6.6" textLength="12.90" lengthAdjust="spacingAndGlyphs" stroke="#231f20" stroke-width="0.12">PDX</text>
<text x="426.00" y="474.70" font-size="6.8" textLength="60.20" lengthAdjust="spacingAndGlyphs" stroke="#231f20" stroke-width="0.12">Hallmark gene sets</text>
<text x="424.60" y="486.40" font-size="6.8" fill="#231f20" stroke="#231f20" stroke-width="0.12" textLength="62.90" lengthAdjust="spacingAndGlyphs">|NES|&gt;1, <tspan font-style="italic">P</tspan> val &lt; .05</text>
<line x1="450.20" y1="490.70" x2="450.20" y2="582.20" stroke="#bdbdbd" stroke-width="0.7" stroke-dasharray="0.8 0.8"/>
<line x1="472.40" y1="490.70" x2="472.40" y2="582.20" stroke="#bdbdbd" stroke-width="0.7" stroke-dasharray="0.8 0.8"/>
<rect x="434.11" y="493.55" width="27.20" height="4.10" fill="#1b4f8c" />
<line x1="424.50" y1="495.60" x2="427.70" y2="495.60" stroke="#231f20" stroke-width="0.9" />
<text x="384.50" y="497.80" font-size="6.6" fill="#1e1e1e" textLength="36.00" lengthAdjust="spacingAndGlyphs" stroke="#1e1e1e" stroke-width="0.12">E2F targets</text>
<rect x="436.88" y="500.45" width="24.42" height="4.10" fill="#1b4f8c" />
<line x1="424.50" y1="502.50" x2="427.70" y2="502.50" stroke="#231f20" stroke-width="0.9" />
<text x="367.50" y="504.70" font-size="6.6" fill="#1e1e1e" textLength="53.00" lengthAdjust="spacingAndGlyphs" stroke="#1e1e1e" stroke-width="0.12">G2M checkpoint</text>
<rect x="439.21" y="507.35" width="22.09" height="4.10" fill="#4d5b6b" />
<line x1="424.50" y1="509.40" x2="427.70" y2="509.40" stroke="#231f20" stroke-width="0.9" />
<text x="313.75" y="511.60" font-size="6.6" fill="#1e1e1e" textLength="106.75" lengthAdjust="spacingAndGlyphs" stroke="#1e1e1e" stroke-width="0.12">Epithelial mesenchymal transition</text>
<rect x="444.65" y="514.25" width="16.65" height="4.10" fill="#4d5b6b" />
<line x1="424.50" y1="516.30" x2="427.70" y2="516.30" stroke="#231f20" stroke-width="0.9" />
<text x="368.00" y="518.50" font-size="6.6" fill="#1e1e1e" textLength="52.50" lengthAdjust="spacingAndGlyphs" stroke="#1e1e1e" stroke-width="0.12">UV response DN</text>
<rect x="446.09" y="521.15" width="15.21" height="4.10" fill="#4e2a72" />
<line x1="424.50" y1="523.20" x2="427.70" y2="523.20" stroke="#231f20" stroke-width="0.9" />
<text x="338.75" y="525.40" font-size="6.6" fill="#1e1e1e" textLength="81.75" lengthAdjust="spacingAndGlyphs" stroke="#1e1e1e" stroke-width="0.12">Interferon alpha response</text>
<rect x="446.09" y="528.05" width="15.21" height="4.10" fill="#4d5b6b" />
<line x1="424.50" y1="530.10" x2="427.70" y2="530.10" stroke="#231f20" stroke-width="0.9" />
<text x="347.50" y="532.30" font-size="6.6" fill="#1e1e1e" textLength="73.00" lengthAdjust="spacingAndGlyphs" stroke="#1e1e1e" stroke-width="0.12">Estrogen response late</text>
<rect x="446.09" y="534.95" width="15.21" height="4.10" fill="#4d5b6b" />
<line x1="424.50" y1="537.00" x2="427.70" y2="537.00" stroke="#231f20" stroke-width="0.9" />
<text x="373.75" y="539.20" font-size="6.6" fill="#1e1e1e" textLength="46.75" lengthAdjust="spacingAndGlyphs" stroke="#1e1e1e" stroke-width="0.12">Apical junction</text>
<rect x="446.31" y="541.85" width="14.99" height="4.10" fill="#c0183c" />
<line x1="424.50" y1="543.90" x2="427.70" y2="543.90" stroke="#231f20" stroke-width="0.9" />
<text x="360.50" y="546.10" font-size="6.6" fill="#1e1e1e" textLength="60.00" lengthAdjust="spacingAndGlyphs" stroke="#1e1e1e" stroke-width="0.12">MTORC1 signaling</text>
<rect x="446.87" y="548.75" width="14.43" height="4.10" fill="#c0183c" />
<line x1="424.50" y1="550.80" x2="427.70" y2="550.80" stroke="#231f20" stroke-width="0.9" />
<text x="370.50" y="553.00" font-size="6.6" fill="#1e1e1e" textLength="50.00" lengthAdjust="spacingAndGlyphs" stroke="#1e1e1e" stroke-width="0.12">MYC targets V1</text>
<rect x="447.09" y="555.65" width="14.21" height="4.10" fill="#f29a1f" />
<line x1="424.50" y1="557.70" x2="427.70" y2="557.70" stroke="#231f20" stroke-width="0.9" />
<text x="389.50" y="559.90" font-size="6.6" fill="#1e1e1e" textLength="31.00" lengthAdjust="spacingAndGlyphs" stroke="#1e1e1e" stroke-width="0.12">Glycolysis</text>
<rect x="461.30" y="562.55" width="18.43" height="4.10" fill="#3daa3f" />
<line x1="424.50" y1="564.60" x2="427.70" y2="564.60" stroke="#231f20" stroke-width="0.9" />
<text x="380.00" y="566.80" font-size="6.6" fill="#1e1e1e" textLength="40.50" lengthAdjust="spacingAndGlyphs" stroke="#1e1e1e" stroke-width="0.12">P53 pathway</text>
<rect x="461.30" y="569.45" width="14.43" height="4.10" fill="#4e2a72" />
<line x1="424.50" y1="571.50" x2="427.70" y2="571.50" stroke="#231f20" stroke-width="0.9" />
<text x="363.00" y="573.70" font-size="6.6" fill="#1e1e1e" textLength="57.50" lengthAdjust="spacingAndGlyphs" stroke="#1e1e1e" stroke-width="0.12">Allograft rejection</text>
<rect x="461.30" y="576.35" width="14.43" height="4.10" fill="#4e2a72" />
<line x1="424.50" y1="578.40" x2="427.70" y2="578.40" stroke="#231f20" stroke-width="0.9" />
<text x="347.50" y="580.60" font-size="6.6" fill="#1e1e1e" textLength="73.00" lengthAdjust="spacingAndGlyphs" stroke="#1e1e1e" stroke-width="0.12">Inflammatory response</text>
<line x1="461.30" y1="490.70" x2="461.30" y2="582.20" stroke="#231f20" stroke-width="1.0" />
<rect x="427.70" y="490.70" width="55.70" height="91.50" fill="none" stroke="#231f20" stroke-width="1.1"/>
<line x1="428.00" y1="582.20" x2="428.00" y2="585.00" stroke="#231f20" stroke-width="0.9" />
<text x="428.00" y="595.60" font-size="7.4" text-anchor="middle" fill="#333" stroke="#333" stroke-width="0.12">−3</text>
<line x1="439.10" y1="582.20" x2="439.10" y2="585.00" stroke="#231f20" stroke-width="0.9" />
<text x="439.10" y="595.60" font-size="7.4" text-anchor="middle" fill="#333" stroke="#333" stroke-width="0.12">−2</text>
<line x1="450.20" y1="582.20" x2="450.20" y2="585.00" stroke="#231f20" stroke-width="0.9" />
<text x="450.20" y="595.60" font-size="7.4" text-anchor="middle" fill="#333" stroke="#333" stroke-width="0.12">−1</text>
<line x1="461.30" y1="582.20" x2="461.30" y2="585.00" stroke="#231f20" stroke-width="0.9" />
<text x="461.30" y="595.60" font-size="7.4" text-anchor="middle" fill="#333" stroke="#333" stroke-width="0.12">0</text>
<line x1="472.40" y1="582.20" x2="472.40" y2="585.00" stroke="#231f20" stroke-width="0.9" />
<text x="472.40" y="595.60" font-size="7.4" text-anchor="middle" fill="#333" stroke="#333" stroke-width="0.12">1</text>
<line x1="483.50" y1="582.20" x2="483.50" y2="585.00" stroke="#231f20" stroke-width="0.9" />
<text x="483.50" y="595.60" font-size="7.4" text-anchor="middle" fill="#333" stroke="#333" stroke-width="0.12">2</text>
<text x="449.30" y="609.20" font-size="8.8" fill="#222" textLength="13.40" lengthAdjust="spacingAndGlyphs" stroke="#222" stroke-width="0.12">NES</text>
<rect x="404.60" y="623.00" width="5.20" height="5.20" fill="#c0183c" />
<text x="413.10" y="628.00" font-size="6.9" fill="#333" textLength="31.80" lengthAdjust="spacingAndGlyphs" stroke="#333" stroke-width="0.12">Oncogenic</text>
<rect x="404.60" y="636.84" width="5.20" height="5.20" fill="#3daa3f" />
<text x="413.10" y="641.84" font-size="6.9" fill="#333" textLength="48.10" lengthAdjust="spacingAndGlyphs" stroke="#333" stroke-width="0.12">Tumor supressor</text>
<rect x="404.60" y="650.68" width="5.20" height="5.20" fill="#1b4f8c" />
<text x="413.10" y="655.68" font-size="6.9" fill="#333" textLength="61.10" lengthAdjust="spacingAndGlyphs" stroke="#333" stroke-width="0.12">Cell cycle/replication</text>
<rect x="404.60" y="664.52" width="5.20" height="5.20" fill="#4e2a72" />
<text x="413.10" y="669.52" font-size="6.9" fill="#333" textLength="37.70" lengthAdjust="spacingAndGlyphs" stroke="#333" stroke-width="0.12">Inflammation</text>
<rect x="404.60" y="678.36" width="5.20" height="5.20" fill="#f29a1f" />
<text x="413.10" y="683.36" font-size="6.9" fill="#333" textLength="34.30" lengthAdjust="spacingAndGlyphs" stroke="#333" stroke-width="0.12">Metabolism</text>
<rect x="404.60" y="692.20" width="5.20" height="5.20" fill="#4d5b6b" />
<text x="413.10" y="697.20" font-size="6.9" fill="#333" textLength="16.90" lengthAdjust="spacingAndGlyphs" stroke="#333" stroke-width="0.12">Other</text>
<text x="8.00" y="583.80" font-size="13.0" font-weight="bold" fill="#000" textLength="6.60" lengthAdjust="spacingAndGlyphs">F</text>
<text x="24.60" y="598.80" font-size="9.6" textLength="202.70" lengthAdjust="spacingAndGlyphs" stroke="#231f20" stroke-width="0.12">Cell lines (n = 4): Z-138, CCMCL-1, SP53, REC-1</text>
<text x="140.80" y="614.70" font-size="6.8" textLength="60.20" lengthAdjust="spacingAndGlyphs" stroke="#231f20" stroke-width="0.12">Hallmark gene sets</text>
<text x="139.20" y="625.40" font-size="6.6" fill="#231f20" stroke="#231f20" stroke-width="0.12" textLength="63.50" lengthAdjust="spacingAndGlyphs">|NES|&gt;1, <tspan font-style="italic">P</tspan> val &lt; .01</text>
<line x1="164.20" y1="630.50" x2="164.20" y2="699.30" stroke="#d9d9d9" stroke-width="0.7" />
<line x1="189.60" y1="630.50" x2="189.60" y2="699.30" stroke="#d9d9d9" stroke-width="0.7" />
<rect x="152.01" y="633.45" width="24.89" height="3.90" fill="#f29a1f" />
<line x1="135.60" y1="635.40" x2="138.80" y2="635.40" stroke="#231f20" stroke-width="0.9" />
<text x="106.25" y="637.60" font-size="6.6" fill="#1e1e1e" textLength="25.75" lengthAdjust="spacingAndGlyphs" stroke="#1e1e1e" stroke-width="0.12">Hypoxia</text>
<rect x="153.53" y="640.75" width="23.37" height="3.90" fill="#c0183c" />
<line x1="135.60" y1="642.70" x2="138.80" y2="642.70" stroke="#231f20" stroke-width="0.9" />
<text x="71.75" y="644.90" font-size="6.6" fill="#1e1e1e" textLength="60.25" lengthAdjust="spacingAndGlyphs" stroke="#1e1e1e" stroke-width="0.12">MTORC1 signaling</text>
<rect x="155.44" y="648.05" width="21.46" height="3.90" fill="#f29a1f" />
<line x1="135.60" y1="650.00" x2="138.80" y2="650.00" stroke="#231f20" stroke-width="0.9" />
<text x="53.75" y="652.20" font-size="6.6" fill="#1e1e1e" textLength="78.25" lengthAdjust="spacingAndGlyphs" stroke="#1e1e1e" stroke-width="0.12">Cholesterol homeostasis</text>
<rect x="156.33" y="655.35" width="20.57" height="3.90" fill="#f29a1f" />
<line x1="135.60" y1="657.30" x2="138.80" y2="657.30" stroke="#231f20" stroke-width="0.9" />
<text x="100.50" y="659.50" font-size="6.6" fill="#1e1e1e" textLength="31.50" lengthAdjust="spacingAndGlyphs" stroke="#1e1e1e" stroke-width="0.12">Glycolysis</text>
<rect x="156.83" y="662.65" width="20.07" height="3.90" fill="#f29a1f" />
<line x1="135.60" y1="664.60" x2="138.80" y2="664.60" stroke="#231f20" stroke-width="0.9" />
<text x="44.25" y="666.80" font-size="6.6" fill="#1e1e1e" textLength="87.75" lengthAdjust="spacingAndGlyphs" stroke="#1e1e1e" stroke-width="0.12">React. oxygen species path.</text>
<rect x="158.87" y="669.95" width="18.03" height="3.90" fill="#4d5b6b" />
<line x1="135.60" y1="671.90" x2="138.80" y2="671.90" stroke="#231f20" stroke-width="0.9" />
<text x="92.50" y="674.10" font-size="6.6" fill="#1e1e1e" textLength="39.50" lengthAdjust="spacingAndGlyphs" stroke="#1e1e1e" stroke-width="0.12">Coagulation</text>
<rect x="176.90" y="677.25" width="17.65" height="3.90" fill="#3daa3f" />
<line x1="135.60" y1="679.20" x2="138.80" y2="679.20" stroke="#231f20" stroke-width="0.9" />
<text x="90.75" y="681.40" font-size="6.6" fill="#1e1e1e" textLength="41.25" lengthAdjust="spacingAndGlyphs" stroke="#1e1e1e" stroke-width="0.12">P53 pathway</text>
<rect x="176.90" y="684.55" width="18.80" height="3.90" fill="#4e2a72" />
<line x1="135.60" y1="686.50" x2="138.80" y2="686.50" stroke="#231f20" stroke-width="0.9" />
<text x="73.75" y="688.70" font-size="6.6" fill="#1e1e1e" textLength="58.25" lengthAdjust="spacingAndGlyphs" stroke="#1e1e1e" stroke-width="0.12">Allograft rejection</text>
<rect x="176.90" y="691.85" width="18.80" height="3.90" fill="#4e2a72" />
<line x1="135.60" y1="693.80" x2="138.80" y2="693.80" stroke="#231f20" stroke-width="0.9" />
<text x="59.25" y="696.00" font-size="6.6" fill="#1e1e1e" textLength="72.75" lengthAdjust="spacingAndGlyphs" stroke="#1e1e1e" stroke-width="0.12">Inflammatory response</text>
<line x1="176.90" y1="630.50" x2="176.90" y2="699.30" stroke="#231f20" stroke-width="1.0" />
<rect x="138.80" y="630.50" width="63.50" height="68.80" fill="none" stroke="#231f20" stroke-width="1.1"/>
<line x1="138.80" y1="699.30" x2="138.80" y2="702.10" stroke="#231f20" stroke-width="0.9" />
<text x="138.80" y="711.40" font-size="6.8" text-anchor="middle" fill="#333" stroke="#333" stroke-width="0.12">−3</text>
<line x1="151.50" y1="699.30" x2="151.50" y2="702.10" stroke="#231f20" stroke-width="0.9" />
<text x="151.50" y="711.40" font-size="6.8" text-anchor="middle" fill="#333" stroke="#333" stroke-width="0.12">−2</text>
<line x1="164.20" y1="699.30" x2="164.20" y2="702.10" stroke="#231f20" stroke-width="0.9" />
<text x="164.20" y="711.40" font-size="6.8" text-anchor="middle" fill="#333" stroke="#333" stroke-width="0.12">−1</text>
<line x1="176.90" y1="699.30" x2="176.90" y2="702.10" stroke="#231f20" stroke-width="0.9" />
<text x="176.90" y="711.40" font-size="6.8" text-anchor="middle" fill="#333" stroke="#333" stroke-width="0.12">0</text>
<line x1="189.60" y1="699.30" x2="189.60" y2="702.10" stroke="#231f20" stroke-width="0.9" />
<text x="189.60" y="711.40" font-size="6.8" text-anchor="middle" fill="#333" stroke="#333" stroke-width="0.12">1</text>
<line x1="202.30" y1="699.30" x2="202.30" y2="702.10" stroke="#231f20" stroke-width="0.9" />
<text x="202.30" y="711.40" font-size="6.8" text-anchor="middle" fill="#333" stroke="#333" stroke-width="0.12">2</text>
<text x="164.30" y="725.30" font-size="9.0" fill="#222" textLength="13.20" lengthAdjust="spacingAndGlyphs" stroke="#222" stroke-width="0.12">NES</text>
<rect x="206.00" y="640.90" width="5.00" height="5.00" fill="#c0183c" />
<text x="214.20" y="645.90" font-size="6.9" fill="#333" textLength="32.00" lengthAdjust="spacingAndGlyphs" stroke="#333" stroke-width="0.12">Oncogenic</text>
<rect x="206.00" y="651.35" width="5.00" height="5.00" fill="#3daa3f" />
<text x="214.20" y="656.35" font-size="6.9" fill="#333" textLength="48.10" lengthAdjust="spacingAndGlyphs" stroke="#333" stroke-width="0.12">Tumor supressor</text>
<rect x="206.00" y="661.80" width="5.00" height="5.00" fill="#4e2a72" />
<text x="214.20" y="666.80" font-size="6.9" fill="#333" textLength="37.80" lengthAdjust="spacingAndGlyphs" stroke="#333" stroke-width="0.12">Inflammation</text>
<rect x="206.00" y="672.25" width="5.00" height="5.00" fill="#f29a1f" />
<text x="214.20" y="677.25" font-size="6.9" fill="#333" textLength="34.70" lengthAdjust="spacingAndGlyphs" stroke="#333" stroke-width="0.12">Metabolism</text>
<rect x="206.00" y="682.70" width="5.00" height="5.00" fill="#4d5b6b" />
<text x="214.20" y="687.70" font-size="6.9" fill="#333" textLength="17.30" lengthAdjust="spacingAndGlyphs" stroke="#333" stroke-width="0.12">Other</text>
</g>
</svg>
<svg class="bd" width="520" height="735" viewBox="0 0 520 735"><rect x="0.55" y="0.55" width="518.9" height="733.9" fill="none" stroke="#404040" stroke-width="1.15"/></svg>
</body></html>
